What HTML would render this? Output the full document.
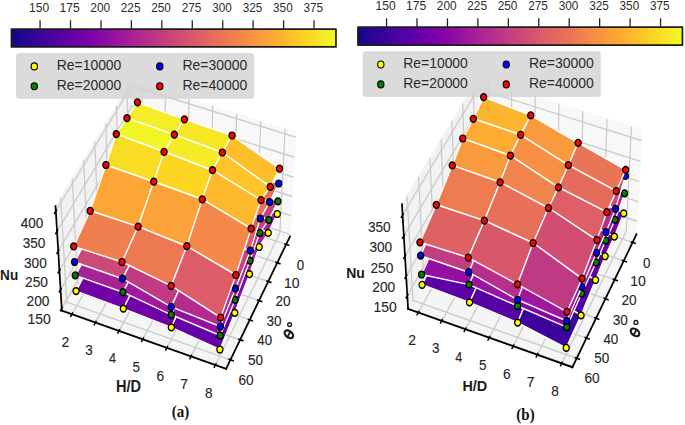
<!DOCTYPE html><html><head><meta charset="utf-8"><title>Nu surfaces</title><style>html,body{margin:0;padding:0;background:#fff}svg{display:block}</style></head><body>
<svg width="685" height="425" viewBox="0 0 685 425">
<defs><linearGradient id="cb0" gradientUnits="userSpaceOnUse" x1="11.45" y1="0" x2="335.95" y2="0"><stop offset="0.0000" stop-color="#0d0887"/><stop offset="0.0312" stop-color="#220690"/><stop offset="0.0625" stop-color="#310597"/><stop offset="0.0938" stop-color="#3f049c"/><stop offset="0.1250" stop-color="#4c02a1"/><stop offset="0.1562" stop-color="#5901a5"/><stop offset="0.1875" stop-color="#6600a7"/><stop offset="0.2188" stop-color="#7201a8"/><stop offset="0.2500" stop-color="#7e03a8"/><stop offset="0.2812" stop-color="#8a09a5"/><stop offset="0.3125" stop-color="#9511a1"/><stop offset="0.3438" stop-color="#a01a9c"/><stop offset="0.3750" stop-color="#aa2395"/><stop offset="0.4062" stop-color="#b32c8e"/><stop offset="0.4375" stop-color="#bc3587"/><stop offset="0.4688" stop-color="#c43e7f"/><stop offset="0.5000" stop-color="#cc4778"/><stop offset="0.5312" stop-color="#d35171"/><stop offset="0.5625" stop-color="#da5a6a"/><stop offset="0.5938" stop-color="#e06363"/><stop offset="0.6250" stop-color="#e66c5c"/><stop offset="0.6562" stop-color="#eb7655"/><stop offset="0.6875" stop-color="#f0804e"/><stop offset="0.7188" stop-color="#f58b47"/><stop offset="0.7500" stop-color="#f89540"/><stop offset="0.7812" stop-color="#fba139"/><stop offset="0.8125" stop-color="#fdac33"/><stop offset="0.8438" stop-color="#feb82c"/><stop offset="0.8750" stop-color="#fdc527"/><stop offset="0.9062" stop-color="#fcd225"/><stop offset="0.9375" stop-color="#f8df25"/><stop offset="0.9688" stop-color="#f4ed27"/><stop offset="1.0000" stop-color="#f0f921"/></linearGradient><linearGradient id="cb1" gradientUnits="userSpaceOnUse" x1="357.95" y1="0" x2="682.45" y2="0"><stop offset="0.0000" stop-color="#0d0887"/><stop offset="0.0312" stop-color="#220690"/><stop offset="0.0625" stop-color="#310597"/><stop offset="0.0938" stop-color="#3f049c"/><stop offset="0.1250" stop-color="#4c02a1"/><stop offset="0.1562" stop-color="#5901a5"/><stop offset="0.1875" stop-color="#6600a7"/><stop offset="0.2188" stop-color="#7201a8"/><stop offset="0.2500" stop-color="#7e03a8"/><stop offset="0.2812" stop-color="#8a09a5"/><stop offset="0.3125" stop-color="#9511a1"/><stop offset="0.3438" stop-color="#a01a9c"/><stop offset="0.3750" stop-color="#aa2395"/><stop offset="0.4062" stop-color="#b32c8e"/><stop offset="0.4375" stop-color="#bc3587"/><stop offset="0.4688" stop-color="#c43e7f"/><stop offset="0.5000" stop-color="#cc4778"/><stop offset="0.5312" stop-color="#d35171"/><stop offset="0.5625" stop-color="#da5a6a"/><stop offset="0.5938" stop-color="#e06363"/><stop offset="0.6250" stop-color="#e66c5c"/><stop offset="0.6562" stop-color="#eb7655"/><stop offset="0.6875" stop-color="#f0804e"/><stop offset="0.7188" stop-color="#f58b47"/><stop offset="0.7500" stop-color="#f89540"/><stop offset="0.7812" stop-color="#fba139"/><stop offset="0.8125" stop-color="#fdac33"/><stop offset="0.8438" stop-color="#feb82c"/><stop offset="0.8750" stop-color="#fdc527"/><stop offset="0.9062" stop-color="#fcd225"/><stop offset="0.9375" stop-color="#f8df25"/><stop offset="0.9688" stop-color="#f4ed27"/><stop offset="1.0000" stop-color="#f0f921"/></linearGradient></defs>
<rect x="0" y="0" width="685" height="425" fill="#fff"/>
 <defs> <style type="text/css">*{stroke-linejoin: round; stroke-linecap: butt}</style> </defs> 
<g transform="translate(174.198,0) scale(0.9040,1) translate(-174.198,0)"> <g id="pane3d_1"> <g id="patch_1"> <path d="M 129.54422 185.053186 L 302.279046 236.474806 L 308.783235 132.006064 L 127.051052 80.723833 " style="fill: #f2f2f2; opacity: 0.5; stroke: #f2f2f2; stroke-linejoin: miter"/> </g> </g> <g id="pane3d_2"> <g id="patch_2"> <path d="M 129.54422 185.053186 L 49.908612 310.560769 L 42.910323 206.130101 L 127.051052 80.723833 " style="fill: #e6e6e6; opacity: 0.5; stroke: #e6e6e6; stroke-linejoin: miter"/> </g> </g> <g id="pane3d_3"> <g id="patch_3"> <path d="M 129.54422 185.053186 L 49.908612 310.560769 L 231.648424 368.769676 L 302.279046 236.474806 " style="fill: #ececec; opacity: 0.5; stroke: #ececec; stroke-linejoin: miter"/> </g> </g> <g id="grid3d_1"> <g id="Line3DCollection_1"> <path d="M 298.041564 244.411832 L 124.75915 192.594567 L 122.010602 88.236296 " style="fill: none; stroke: #cbcbcb; stroke-width: 1.4"/> <path d="M 288.231021 262.787496 L 113.684439 210.048572 L 110.337336 105.634537 " style="fill: none; stroke: #cbcbcb; stroke-width: 1.4"/> <path d="M 278.242912 281.495749 L 102.41444 227.810354 L 98.447474 123.355601 " style="fill: none; stroke: #cbcbcb; stroke-width: 1.4"/> <path d="M 268.072372 300.545704 L 90.943942 245.888127 L 86.33493 141.408557 " style="fill: none; stroke: #cbcbcb; stroke-width: 1.4"/> <path d="M 257.714359 319.946809 L 79.267547 264.2904 L 73.99339 159.802818 " style="fill: none; stroke: #cbcbcb; stroke-width: 1.4"/> <path d="M 247.163638 339.708863 L 67.37966 283.025988 L 61.416297 178.548155 " style="fill: none; stroke: #cbcbcb; stroke-width: 1.4"/> <path d="M 236.414784 359.842033 L 55.274483 302.104031 L 48.596843 197.654715 " style="fill: none; stroke: #cbcbcb; stroke-width: 1.4"/> </g> </g> <g id="grid3d_2"> <g id="Line3DCollection_2"> <path d="M 138.328574 83.906189 L 140.276696 188.248148 L 61.183324 314.171913 " style="fill: none; stroke: #cbcbcb; stroke-width: 1.4"/> <path d="M 164.249293 91.220646 L 164.937987 195.589595 L 87.099231 322.472442 " style="fill: none; stroke: #cbcbcb; stroke-width: 1.4"/> <path d="M 190.371594 98.591987 L 189.78166 202.985335 L 113.219004 330.838267 " style="fill: none; stroke: #cbcbcb; stroke-width: 1.4"/> <path d="M 216.697838 106.020878 L 214.809745 210.435974 L 139.54506 339.270162 " style="fill: none; stroke: #cbcbcb; stroke-width: 1.4"/> <path d="M 243.230424 113.507995 L 240.024304 217.942123 L 166.07985 347.768911 " style="fill: none; stroke: #cbcbcb; stroke-width: 1.4"/> <path d="M 269.971786 121.054026 L 265.427428 225.504407 L 192.825869 356.335315 " style="fill: none; stroke: #cbcbcb; stroke-width: 1.4"/> <path d="M 296.924398 128.659669 L 291.021241 233.123458 L 219.785647 364.970182 " style="fill: none; stroke: #cbcbcb; stroke-width: 1.4"/> </g> </g> <g id="grid3d_3"> <g id="Line3DCollection_3"> <path d="M 49.765356 308.423045 L 129.493022 182.910772 L 302.412437 234.332305 " style="fill: none; stroke: #cbcbcb; stroke-width: 1.4"/> <path d="M 48.512885 289.733281 L 129.0457 164.192078 L 303.578213 215.607901 " style="fill: none; stroke: #cbcbcb; stroke-width: 1.4"/> <path d="M 47.235773 270.675823 L 128.59011 145.127401 L 304.766103 196.528283 " style="fill: none; stroke: #cbcbcb; stroke-width: 1.4"/> <path d="M 45.933286 251.239712 L 128.12602 125.707059 L 305.976744 177.083249 " style="fill: none; stroke: #cbcbcb; stroke-width: 1.4"/> <path d="M 44.604661 231.41355 L 127.653191 105.921005 L 307.210796 157.262197 " style="fill: none; stroke: #cbcbcb; stroke-width: 1.4"/> <path d="M 43.249102 211.185477 L 127.171374 85.758813 L 308.468945 137.054114 " style="fill: none; stroke: #cbcbcb; stroke-width: 1.4"/> </g> </g> <g id="axis3d_1"> <g id="line2d_1"> <path d="M 302.279046 236.474806 L 231.648424 368.769676 " style="fill: none; stroke: #000000; stroke-width: 1.9; stroke-linecap: square"/> </g> <g id="xtick_1"> <g id="line2d_2"> <path d="M 296.619631 243.986626 L 300.887201 245.262773 " style="fill: none; stroke: #000000; stroke-width: 1.6; stroke-linecap: square"/> </g> </g> <g id="xtick_2"> <g id="line2d_3"> <path d="M 286.798392 262.35463 L 291.098079 263.653772 " style="fill: none; stroke: #000000; stroke-width: 1.6; stroke-linecap: square"/> </g> </g> <g id="xtick_3"> <g id="line2d_4"> <path d="M 276.799431 281.055014 L 281.131704 282.377779 " style="fill: none; stroke: #000000; stroke-width: 1.6; stroke-linecap: square"/> </g> </g> <g id="xtick_4"> <g id="line2d_5"> <path d="M 266.617881 300.096883 L 270.983217 301.443921 " style="fill: none; stroke: #000000; stroke-width: 1.6; stroke-linecap: square"/> </g> </g> <g id="xtick_5"> <g id="line2d_6"> <path d="M 256.248693 319.489678 L 260.647582 320.861663 " style="fill: none; stroke: #000000; stroke-width: 1.6; stroke-linecap: square"/> </g> </g> <g id="xtick_6"> <g id="line2d_7"> <path d="M 245.686633 339.243188 L 250.119574 340.64082 " style="fill: none; stroke: #000000; stroke-width: 1.6; stroke-linecap: square"/> </g> </g> <g id="xtick_7"> <g id="line2d_8"> <path d="M 234.926269 359.367573 L 239.393771 360.791578 " style="fill: none; stroke: #000000; stroke-width: 1.6; stroke-linecap: square"/> </g> </g> </g> <g id="axis3d_2"> <g id="line2d_9"> <path d="M 49.908612 310.560769 L 231.648424 368.769676 " style="fill: none; stroke: #000000; stroke-width: 1.9; stroke-linecap: square"/> </g> <g id="xtick_8"> <g id="line2d_10"> <path d="M 61.855715 313.101406 L 59.8365 316.316178 " style="fill: none; stroke: #000000; stroke-width: 1.6; stroke-linecap: square"/> </g> </g> <g id="xtick_9"> <g id="line2d_11"> <path d="M 87.761109 321.393532 L 85.773456 324.633551 " style="fill: none; stroke: #000000; stroke-width: 1.6; stroke-linecap: square"/> </g> </g> <g id="xtick_10"> <g id="line2d_12"> <path d="M 113.870183 329.750856 L 111.914654 333.016418 " style="fill: none; stroke: #000000; stroke-width: 1.6; stroke-linecap: square"/> </g> </g> <g id="xtick_11"> <g id="line2d_13"> <path d="M 140.185349 338.174148 L 138.262514 341.465558 " style="fill: none; stroke: #000000; stroke-width: 1.6; stroke-linecap: square"/> </g> </g> <g id="xtick_12"> <g id="line2d_14"> <path d="M 166.709057 346.664192 L 164.819496 349.981758 " style="fill: none; stroke: #000000; stroke-width: 1.6; stroke-linecap: square"/> </g> </g> <g id="xtick_13"> <g id="line2d_15"> <path d="M 193.443795 355.221786 L 191.588102 358.56582 " style="fill: none; stroke: #000000; stroke-width: 1.6; stroke-linecap: square"/> </g> </g> <g id="xtick_14"> <g id="line2d_16"> <path d="M 220.392093 363.847739 L 218.570869 367.21856 " style="fill: none; stroke: #000000; stroke-width: 1.6; stroke-linecap: square"/> </g> </g> </g> <g id="axis3d_3"> <g id="line2d_17"> <path d="M 49.908612 310.560769 L 42.910323 206.130101 " style="fill: none; stroke: #000000; stroke-width: 1.9; stroke-linecap: square"/> </g> <g id="xtick_15"> <g id="line2d_18"> <path d="M 50.443116 307.356073 L 48.407779 310.560227 " style="fill: none; stroke: #000000; stroke-width: 1.6; stroke-linecap: square"/> </g> </g> <g id="xtick_16"> <g id="line2d_19"> <path d="M 49.197882 288.665451 L 47.140791 291.872213 " style="fill: none; stroke: #000000; stroke-width: 1.6; stroke-linecap: square"/> </g> </g> <g id="xtick_17"> <g id="line2d_20"> <path d="M 47.928163 269.607307 L 45.848851 272.816161 " style="fill: none; stroke: #000000; stroke-width: 1.6; stroke-linecap: square"/> </g> </g> <g id="xtick_18"> <g id="line2d_21"> <path d="M 46.633228 250.170693 L 44.531215 253.38109 " style="fill: none; stroke: #000000; stroke-width: 1.6; stroke-linecap: square"/> </g> </g> <g id="xtick_19"> <g id="line2d_22"> <path d="M 45.312321 230.344224 L 43.187109 233.555578 " style="fill: none; stroke: #000000; stroke-width: 1.6; stroke-linecap: square"/> </g> </g> <g id="xtick_20"> <g id="line2d_23"> <path d="M 43.96465 210.11605 L 41.815726 213.327741 " style="fill: none; stroke: #000000; stroke-width: 1.6; stroke-linecap: square"/> </g> </g> </g> </g><g transform="translate(520.500,0) scale(0.9017,1) translate(-520.500,0)"><g id="pane3d_4"> <g id="patch_4"> <path d="M 475.576812 182.635281 L 649.131159 234.387358 L 655.451472 129.797982 L 473.148319 78.15619 " style="fill: #f2f2f2; opacity: 0.5; stroke: #f2f2f2; stroke-linejoin: miter"/> </g> </g> <g id="pane3d_5"> <g id="patch_5"> <path d="M 475.576812 182.635281 L 395.825243 308.859017 L 389.042494 204.335285 L 473.148319 78.15619 " style="fill: #e6e6e6; opacity: 0.5; stroke: #e6e6e6; stroke-linejoin: miter"/> </g> </g> <g id="pane3d_6"> <g id="patch_6"> <path d="M 475.576812 182.635281 L 395.825243 308.859017 L 578.103394 367.187231 L 649.131159 234.387358 " style="fill: #ececec; opacity: 0.5; stroke: #ececec; stroke-linejoin: miter"/> </g> </g> <g id="grid3d_4"> <g id="Line3DCollection_4"> <path d="M 644.860885 242.371444 L 470.775207 190.234838 L 468.098883 85.731566 " style="fill: none; stroke: #cbcbcb; stroke-width: 1.4"/> <path d="M 634.978823 260.847833 L 459.666924 207.816047 L 456.410237 103.267364 " style="fill: none; stroke: #cbcbcb; stroke-width: 1.4"/> <path d="M 624.924208 279.646842 L 448.369495 225.696618 L 444.512501 121.116848 " style="fill: none; stroke: #cbcbcb; stroke-width: 1.4"/> <path d="M 614.692482 298.776993 L 436.878049 243.884264 L 432.400014 139.28851 " style="fill: none; stroke: #cbcbcb; stroke-width: 1.4"/> <path d="M 604.278924 318.247115 L 425.187544 262.386963 L 420.066909 157.791153 " style="fill: none; stroke: #cbcbcb; stroke-width: 1.4"/> <path d="M 593.678642 338.066351 L 413.292761 281.212973 L 407.507102 176.633904 " style="fill: none; stroke: #cbcbcb; stroke-width: 1.4"/> <path d="M 582.88657 358.244177 L 401.188301 300.370843 L 394.714286 195.826225 " style="fill: none; stroke: #cbcbcb; stroke-width: 1.4"/> </g> </g> <g id="grid3d_5"> <g id="Line3DCollection_5"> <path d="M 484.471566 81.363774 L 486.369143 185.85344 L 407.143928 312.480947 " style="fill: none; stroke: #cbcbcb; stroke-width: 1.4"/> <path d="M 510.492216 88.734755 L 511.163479 193.24685 L 433.155603 320.804569 " style="fill: none; stroke: #cbcbcb; stroke-width: 1.4"/> <path d="M 536.707943 96.160995 L 536.134858 200.693052 L 459.364416 329.191275 " style="fill: none; stroke: #cbcbcb; stroke-width: 1.4"/> <path d="M 563.120947 103.64312 L 561.285183 208.192614 L 485.772617 337.641785 " style="fill: none; stroke: #cbcbcb; stroke-width: 1.4"/> <path d="M 589.733466 111.181762 L 586.616385 215.746111 L 512.382489 346.156828 " style="fill: none; stroke: #cbcbcb; stroke-width: 1.4"/> <path d="M 616.547768 118.777563 L 612.13042 223.354128 L 539.196351 354.737147 " style="fill: none; stroke: #cbcbcb; stroke-width: 1.4"/> <path d="M 643.566156 126.431177 L 637.829277 231.017256 L 566.216558 363.383495 " style="fill: none; stroke: #cbcbcb; stroke-width: 1.4"/> </g> </g> <g id="grid3d_6"> <g id="Line3DCollection_6"> <path d="M 394.972027 295.710748 L 475.270521 169.457955 L 649.927442 221.21035 " style="fill: none; stroke: #cbcbcb; stroke-width: 1.4"/> <path d="M 393.703021 276.155084 L 474.815398 149.877569 L 651.11111 201.622858 " style="fill: none; stroke: #cbcbcb; stroke-width: 1.4"/> <path d="M 392.408936 256.212925 L 474.351808 129.932943 L 652.31736 181.661674 " style="fill: none; stroke: #cbcbcb; stroke-width: 1.4"/> <path d="M 391.089019 235.872697 L 473.879514 109.613818 L 653.546845 161.316 " style="fill: none; stroke: #cbcbcb; stroke-width: 1.4"/> <path d="M 389.742489 215.122361 L 473.398268 88.909545 L 654.800242 140.574618 " style="fill: none; stroke: #cbcbcb; stroke-width: 1.4"/> </g> </g> <g id="axis3d_4"> <g id="line2d_24"> <path d="M 649.131159 234.387358 L 578.103394 367.187231 " style="fill: none; stroke: #000000; stroke-width: 1.9; stroke-linecap: square"/> </g> <g id="xtick_21"> <g id="line2d_25"> <path d="M 643.433621 241.943995 L 647.717129 243.226855 " style="fill: none; stroke: #000000; stroke-width: 1.6; stroke-linecap: square"/> </g> </g> <g id="xtick_22"> <g id="line2d_26"> <path d="M 633.541204 260.412954 L 637.855804 261.718119 " style="fill: none; stroke: #000000; stroke-width: 1.6; stroke-linecap: square"/> </g> </g> <g id="xtick_23"> <g id="line2d_27"> <path d="M 623.476089 279.204337 L 627.822218 280.532393 " style="fill: none; stroke: #000000; stroke-width: 1.6; stroke-linecap: square"/> </g> </g> <g id="xtick_24"> <g id="line2d_28"> <path d="M 613.233714 298.32666 L 617.611818 299.678215 " style="fill: none; stroke: #000000; stroke-width: 1.6; stroke-linecap: square"/> </g> </g> <g id="xtick_25"> <g id="line2d_29"> <path d="M 602.809356 317.788744 L 607.21989 319.164428 " style="fill: none; stroke: #000000; stroke-width: 1.6; stroke-linecap: square"/> </g> </g> <g id="xtick_26"> <g id="line2d_30"> <path d="M 592.198119 337.599725 L 596.641548 339.000189 " style="fill: none; stroke: #000000; stroke-width: 1.6; stroke-linecap: square"/> </g> </g> <g id="xtick_27"> <g id="line2d_31"> <path d="M 581.394934 357.769071 L 585.871731 359.194991 " style="fill: none; stroke: #000000; stroke-width: 1.6; stroke-linecap: square"/> </g> </g> </g> <g id="axis3d_5"> <g id="line2d_32"> <path d="M 395.825243 308.859017 L 578.103394 367.187231 " style="fill: none; stroke: #000000; stroke-width: 1.9; stroke-linecap: square"/> </g> <g id="xtick_28"> <g id="line2d_33"> <path d="M 407.81602 311.406727 L 405.797777 314.632531 " style="fill: none; stroke: #000000; stroke-width: 1.6; stroke-linecap: square"/> </g> </g> <g id="xtick_29"> <g id="line2d_34"> <path d="M 433.81751 319.722226 L 431.829845 322.972437 " style="fill: none; stroke: #000000; stroke-width: 1.6; stroke-linecap: square"/> </g> </g> <g id="xtick_30"> <g id="line2d_35"> <path d="M 460.015965 328.100715 L 458.059398 331.375612 " style="fill: none; stroke: #000000; stroke-width: 1.6; stroke-linecap: square"/> </g> </g> <g id="xtick_31"> <g id="line2d_36"> <path d="M 486.413629 336.542914 L 484.488694 339.842779 " style="fill: none; stroke: #000000; stroke-width: 1.6; stroke-linecap: square"/> </g> </g> <g id="xtick_32"> <g id="line2d_37"> <path d="M 513.012785 345.049552 L 511.120022 348.374671 " style="fill: none; stroke: #000000; stroke-width: 1.6; stroke-linecap: square"/> </g> </g> <g id="xtick_33"> <g id="line2d_38"> <path d="M 539.815748 353.621368 L 537.955708 356.972033 " style="fill: none; stroke: #000000; stroke-width: 1.6; stroke-linecap: square"/> </g> </g> <g id="xtick_34"> <g id="line2d_39"> <path d="M 566.824869 362.259116 L 564.998113 365.635622 " style="fill: none; stroke: #000000; stroke-width: 1.6; stroke-linecap: square"/> </g> </g> </g> <g id="axis3d_6"> <g id="line2d_40"> <path d="M 395.825243 308.859017 L 389.042494 204.335285 " style="fill: none; stroke: #000000; stroke-width: 1.9; stroke-linecap: square"/> </g> <g id="xtick_35"> <g id="line2d_41"> <path d="M 395.653416 294.639404 L 393.607243 297.856588 " style="fill: none; stroke: #000000; stroke-width: 1.6; stroke-linecap: square"/> </g> </g> <g id="xtick_36"> <g id="line2d_42"> <path d="M 394.391702 275.082931 L 392.323613 278.302577 " style="fill: none; stroke: #000000; stroke-width: 1.6; stroke-linecap: square"/> </g> </g> <g id="xtick_37"> <g id="line2d_43"> <path d="M 393.105065 255.140138 L 391.014589 258.361716 " style="fill: none; stroke: #000000; stroke-width: 1.6; stroke-linecap: square"/> </g> </g> <g id="xtick_38"> <g id="line2d_44"> <path d="M 391.792758 234.799466 L 389.679408 238.022411 " style="fill: none; stroke: #000000; stroke-width: 1.6; stroke-linecap: square"/> </g> </g> <g id="xtick_39"> <g id="line2d_45"> <path d="M 390.454005 214.048885 L 388.317279 217.272598 " style="fill: none; stroke: #000000; stroke-width: 1.6; stroke-linecap: square"/> </g> </g> </g> </g>
<rect x="11.45" y="29.05" width="324.50" height="17.90" fill="url(#cb0)" stroke="#1c1c1c" stroke-width="1.7"/>
<line x1="40.06" y1="20.25" x2="40.06" y2="29.05" stroke="#262626" stroke-width="1.3"/>
<text x="0" y="0" transform="translate(29.10,12.27) scale(0.9362,1)" font-family='"Liberation Sans", sans-serif' font-weight="normal" font-size="12.85" fill="#2b2b2b">150</text>
<line x1="70.51" y1="20.25" x2="70.51" y2="29.05" stroke="#262626" stroke-width="1.3"/>
<text x="0" y="0" transform="translate(59.54,12.27) scale(0.9248,1)" font-family='"Liberation Sans", sans-serif' font-weight="normal" font-size="13.04" fill="#2b2b2b">175</text>
<line x1="100.95" y1="20.25" x2="100.95" y2="29.05" stroke="#262626" stroke-width="1.3"/>
<text x="0" y="0" transform="translate(90.30,12.27) scale(0.9208,1)" font-family='"Liberation Sans", sans-serif' font-weight="normal" font-size="12.85" fill="#2b2b2b">200</text>
<line x1="131.39" y1="20.25" x2="131.39" y2="29.05" stroke="#262626" stroke-width="1.3"/>
<text x="0" y="0" transform="translate(120.74,12.27) scale(0.9226,1)" font-family='"Liberation Sans", sans-serif' font-weight="normal" font-size="12.85" fill="#2b2b2b">225</text>
<line x1="161.83" y1="20.25" x2="161.83" y2="29.05" stroke="#262626" stroke-width="1.3"/>
<text x="0" y="0" transform="translate(151.19,12.27) scale(0.9208,1)" font-family='"Liberation Sans", sans-serif' font-weight="normal" font-size="12.85" fill="#2b2b2b">250</text>
<line x1="192.27" y1="20.25" x2="192.27" y2="29.05" stroke="#262626" stroke-width="1.3"/>
<text x="0" y="0" transform="translate(181.63,12.27) scale(0.9226,1)" font-family='"Liberation Sans", sans-serif' font-weight="normal" font-size="12.85" fill="#2b2b2b">275</text>
<line x1="222.71" y1="20.25" x2="222.71" y2="29.05" stroke="#262626" stroke-width="1.3"/>
<text x="0" y="0" transform="translate(212.21,12.27) scale(0.9139,1)" font-family='"Liberation Sans", sans-serif' font-weight="normal" font-size="12.85" fill="#2b2b2b">300</text>
<line x1="253.15" y1="20.25" x2="253.15" y2="29.05" stroke="#262626" stroke-width="1.3"/>
<text x="0" y="0" transform="translate(242.65,12.27) scale(0.9156,1)" font-family='"Liberation Sans", sans-serif' font-weight="normal" font-size="12.85" fill="#2b2b2b">325</text>
<line x1="283.59" y1="20.25" x2="283.59" y2="29.05" stroke="#262626" stroke-width="1.3"/>
<text x="0" y="0" transform="translate(273.10,12.27) scale(0.9139,1)" font-family='"Liberation Sans", sans-serif' font-weight="normal" font-size="12.85" fill="#2b2b2b">350</text>
<line x1="314.03" y1="20.25" x2="314.03" y2="29.05" stroke="#262626" stroke-width="1.3"/>
<text x="0" y="0" transform="translate(303.54,12.27) scale(0.9156,1)" font-family='"Liberation Sans", sans-serif' font-weight="normal" font-size="12.85" fill="#2b2b2b">375</text>
<rect x="16.6" y="53.6" width="237.2" height="44.7" rx="2.2" fill="#d3d3d3" fill-opacity="0.82" stroke="#cfcfcf" stroke-opacity="0.8" stroke-width="0.8"/>
<ellipse cx="34.30" cy="66.40" rx="3.15" ry="3.5" fill="#ffff00" stroke="#000" stroke-width="1.1"/>
<text x="0" y="0" transform="translate(56.76,70.06) scale(0.9961,1)" font-family='"Liberation Sans", sans-serif' font-weight="normal" font-size="13.98" fill="#2b2b2b">Re=10000</text>
<ellipse cx="34.30" cy="86.30" rx="3.15" ry="3.5" fill="#008000" stroke="#000" stroke-width="1.1"/>
<text x="0" y="0" transform="translate(56.76,89.96) scale(0.9961,1)" font-family='"Liberation Sans", sans-serif' font-weight="normal" font-size="13.98" fill="#2b2b2b">Re=20000</text>
<ellipse cx="159.80" cy="66.40" rx="3.15" ry="3.5" fill="#0000ff" stroke="#000" stroke-width="1.1"/>
<text x="0" y="0" transform="translate(182.45,70.06) scale(0.9993,1)" font-family='"Liberation Sans", sans-serif' font-weight="normal" font-size="13.98" fill="#2b2b2b">Re=30000</text>
<ellipse cx="159.80" cy="86.30" rx="3.15" ry="3.5" fill="#ff0000" stroke="#000" stroke-width="1.1"/>
<text x="0" y="0" transform="translate(182.45,89.96) scale(0.9993,1)" font-family='"Liberation Sans", sans-serif' font-weight="normal" font-size="13.98" fill="#2b2b2b">Re=40000</text>
<rect x="357.95" y="27.150000000000002" width="324.50" height="17.90" fill="url(#cb1)" stroke="#1c1c1c" stroke-width="1.7"/>
<line x1="386.56" y1="18.35" x2="386.56" y2="27.15" stroke="#262626" stroke-width="1.3"/>
<text x="0" y="0" transform="translate(375.60,10.37) scale(0.9362,1)" font-family='"Liberation Sans", sans-serif' font-weight="normal" font-size="12.85" fill="#2b2b2b">150</text>
<line x1="417.01" y1="18.35" x2="417.01" y2="27.15" stroke="#262626" stroke-width="1.3"/>
<text x="0" y="0" transform="translate(406.04,10.37) scale(0.9248,1)" font-family='"Liberation Sans", sans-serif' font-weight="normal" font-size="13.04" fill="#2b2b2b">175</text>
<line x1="447.45" y1="18.35" x2="447.45" y2="27.15" stroke="#262626" stroke-width="1.3"/>
<text x="0" y="0" transform="translate(436.80,10.37) scale(0.9208,1)" font-family='"Liberation Sans", sans-serif' font-weight="normal" font-size="12.85" fill="#2b2b2b">200</text>
<line x1="477.89" y1="18.35" x2="477.89" y2="27.15" stroke="#262626" stroke-width="1.3"/>
<text x="0" y="0" transform="translate(467.24,10.37) scale(0.9226,1)" font-family='"Liberation Sans", sans-serif' font-weight="normal" font-size="12.85" fill="#2b2b2b">225</text>
<line x1="508.33" y1="18.35" x2="508.33" y2="27.15" stroke="#262626" stroke-width="1.3"/>
<text x="0" y="0" transform="translate(497.69,10.37) scale(0.9208,1)" font-family='"Liberation Sans", sans-serif' font-weight="normal" font-size="12.85" fill="#2b2b2b">250</text>
<line x1="538.77" y1="18.35" x2="538.77" y2="27.15" stroke="#262626" stroke-width="1.3"/>
<text x="0" y="0" transform="translate(528.13,10.37) scale(0.9226,1)" font-family='"Liberation Sans", sans-serif' font-weight="normal" font-size="12.85" fill="#2b2b2b">275</text>
<line x1="569.21" y1="18.35" x2="569.21" y2="27.15" stroke="#262626" stroke-width="1.3"/>
<text x="0" y="0" transform="translate(558.71,10.37) scale(0.9139,1)" font-family='"Liberation Sans", sans-serif' font-weight="normal" font-size="12.85" fill="#2b2b2b">300</text>
<line x1="599.65" y1="18.35" x2="599.65" y2="27.15" stroke="#262626" stroke-width="1.3"/>
<text x="0" y="0" transform="translate(589.15,10.37) scale(0.9156,1)" font-family='"Liberation Sans", sans-serif' font-weight="normal" font-size="12.85" fill="#2b2b2b">325</text>
<line x1="630.09" y1="18.35" x2="630.09" y2="27.15" stroke="#262626" stroke-width="1.3"/>
<text x="0" y="0" transform="translate(619.60,10.37) scale(0.9139,1)" font-family='"Liberation Sans", sans-serif' font-weight="normal" font-size="12.85" fill="#2b2b2b">350</text>
<line x1="660.53" y1="18.35" x2="660.53" y2="27.15" stroke="#262626" stroke-width="1.3"/>
<text x="0" y="0" transform="translate(650.04,10.37) scale(0.9156,1)" font-family='"Liberation Sans", sans-serif' font-weight="normal" font-size="12.85" fill="#2b2b2b">375</text>
<rect x="363.1" y="51.7" width="237.2" height="44.7" rx="2.2" fill="#d3d3d3" fill-opacity="0.82" stroke="#cfcfcf" stroke-opacity="0.8" stroke-width="0.8"/>
<ellipse cx="380.80" cy="64.50" rx="3.15" ry="3.5" fill="#ffff00" stroke="#000" stroke-width="1.1"/>
<text x="0" y="0" transform="translate(403.26,68.16) scale(0.9961,1)" font-family='"Liberation Sans", sans-serif' font-weight="normal" font-size="13.98" fill="#2b2b2b">Re=10000</text>
<ellipse cx="380.80" cy="84.40" rx="3.15" ry="3.5" fill="#008000" stroke="#000" stroke-width="1.1"/>
<text x="0" y="0" transform="translate(403.26,88.06) scale(0.9961,1)" font-family='"Liberation Sans", sans-serif' font-weight="normal" font-size="13.98" fill="#2b2b2b">Re=20000</text>
<ellipse cx="506.30" cy="64.50" rx="3.15" ry="3.5" fill="#0000ff" stroke="#000" stroke-width="1.1"/>
<text x="0" y="0" transform="translate(528.95,68.16) scale(0.9993,1)" font-family='"Liberation Sans", sans-serif' font-weight="normal" font-size="13.98" fill="#2b2b2b">Re=30000</text>
<ellipse cx="506.30" cy="84.40" rx="3.15" ry="3.5" fill="#ff0000" stroke="#000" stroke-width="1.1"/>
<text x="0" y="0" transform="translate(528.95,88.06) scale(0.9993,1)" font-family='"Liberation Sans", sans-serif' font-weight="normal" font-size="13.98" fill="#2b2b2b">Re=40000</text>
<g transform="translate(174.198,0) scale(0.9040,1) translate(-174.198,0)"><g id="axes_1"> <g id="Poly3DCollection_1"> <path d="M 134.815746 162.183339 L 185.28701 180.207807 L 174.481593 197.307194 L 123.620926 179.450666 z " clip-path="url(#p30586938d8)" style="fill: #ad2793; stroke: #ffffff; stroke-width: 1.45"/> <path d="M 185.28701 180.207807 L 236.51652 193.185987 L 226.078339 211.340903 L 174.481593 197.307194 z " clip-path="url(#p30586938d8)" style="fill: #ab2494; stroke: #ffffff; stroke-width: 1.45"/> <path d="M 123.620926 179.450666 L 174.481593 197.307194 L 163.465911 213.689781 L 112.155497 194.978468 z " clip-path="url(#p30586938d8)" style="fill: #b12a90; stroke: #ffffff; stroke-width: 1.45"/> <path d="M 236.51652 193.185987 L 288.222153 214.008744 L 278.175553 232.904298 L 226.078339 211.340903 z " clip-path="url(#p30586938d8)" style="fill: #a51f99; stroke: #ffffff; stroke-width: 1.45"/> <path d="M 112.155497 194.978468 L 163.465911 213.689781 L 152.366273 240.81629 L 100.918006 222.792945 z " clip-path="url(#p30586938d8)" style="fill: #a62098; stroke: #ffffff; stroke-width: 1.45"/> <path d="M 174.481593 197.307194 L 226.078339 211.340903 L 215.483355 228.087436 L 163.465911 213.689781 z " clip-path="url(#p30586938d8)" style="fill: #ae2892; stroke: #ffffff; stroke-width: 1.45"/> <path d="M 100.918006 222.792945 L 152.366273 240.81629 L 135.415006 277.278733 L 83.633615 259.787519 z " clip-path="url(#p30586938d8)" style="fill: #8707a6; stroke: #ffffff; stroke-width: 1.45"/> <path d="M 226.078339 211.340903 L 278.175553 232.904298 L 268.18371 247.002552 L 215.483355 228.087436 z " clip-path="url(#p30586938d8)" style="fill: #aa2395; stroke: #ffffff; stroke-width: 1.45"/> <path d="M 163.465911 213.689781 L 215.483355 228.087436 L 204.543298 255.138462 L 152.366273 240.81629 z " clip-path="url(#p30586938d8)" style="fill: #a31e9a; stroke: #ffffff; stroke-width: 1.45"/> <path d="M 152.366273 240.81629 L 204.543298 255.138462 L 187.943236 293.240442 L 135.415006 277.278733 z " clip-path="url(#p30586938d8)" style="fill: #8606a6; stroke: #ffffff; stroke-width: 1.45"/> <path d="M 215.483355 228.087436 L 268.18371 247.002552 L 257.442307 274.201899 L 204.543298 255.138462 z " clip-path="url(#p30586938d8)" style="fill: #a11b9b; stroke: #ffffff; stroke-width: 1.45"/> <path d="M 83.633615 259.787519 L 135.415006 277.278733 L 117.951629 308.59287 L 65.664265 291.10094 z " clip-path="url(#p30586938d8)" style="fill: #7201a8; stroke: #ffffff; stroke-width: 1.45"/> <path d="M 204.543298 255.138462 L 257.442307 274.201899 L 241.211384 312.902342 L 187.943236 293.240442 z " clip-path="url(#p30586938d8)" style="fill: #8305a7; stroke: #ffffff; stroke-width: 1.45"/> <path d="M 135.415006 277.278733 L 187.943236 293.240442 L 171.022352 327.400951 L 117.951629 308.59287 z " clip-path="url(#p30586938d8)" style="fill: #6f00a8; stroke: #ffffff; stroke-width: 1.45"/> <path d="M 187.943236 293.240442 L 241.211384 312.902342 L 224.75479 349.502278 L 171.022352 327.400951 z " clip-path="url(#p30586938d8)" style="fill: #6400a7; stroke: #ffffff; stroke-width: 1.45"/> </g> <g id="Path3DCollection_1"> <defs> <path id="m88a1e799e0" d="M 0 3.391165 C 0.899347 3.391165 1.761981 3.03385 2.397916 2.397916 C 3.03385 1.761981 3.391165 0.899347 3.391165 0 C 3.391165 -0.899347 3.03385 -1.761981 2.397916 -2.397916 C 1.761981 -3.03385 0.899347 -3.391165 0 -3.391165 C -0.899347 -3.391165 -1.761981 -3.03385 -2.397916 -2.397916 C -3.03385 -1.761981 -3.391165 -0.899347 -3.391165 0 C -3.391165 0.899347 -3.03385 1.761981 -2.397916 2.397916 C -1.761981 3.03385 -0.899347 3.391165 0 3.391165 z " style="stroke: #000000; stroke-width: 1.4"/> </defs> <g clip-path="url(#p30586938d8)"> <use href="#m88a1e799e0" x="134.815746" y="162.183339" style="fill: #ffff00; stroke: #000000; stroke-width: 1.4"/> <use href="#m88a1e799e0" x="185.28701" y="180.207807" style="fill: #ffff00; stroke: #000000; stroke-width: 1.4"/> <use href="#m88a1e799e0" x="123.620926" y="179.450666" style="fill: #ffff00; stroke: #000000; stroke-width: 1.4"/> <use href="#m88a1e799e0" x="236.51652" y="193.185987" style="fill: #ffff00; stroke: #000000; stroke-width: 1.4"/> <use href="#m88a1e799e0" x="174.481593" y="197.307194" style="fill: #ffff00; stroke: #000000; stroke-width: 1.4"/> <use href="#m88a1e799e0" x="112.155497" y="194.978468" style="fill: #ffff00; stroke: #000000; stroke-width: 1.4"/> <use href="#m88a1e799e0" x="288.222153" y="214.008744" style="fill: #ffff00; stroke: #000000; stroke-width: 1.4"/> <use href="#m88a1e799e0" x="100.918006" y="222.792945" style="fill: #ffff00; stroke: #000000; stroke-width: 1.4"/> <use href="#m88a1e799e0" x="226.078339" y="211.340903" style="fill: #ffff00; stroke: #000000; stroke-width: 1.4"/> <use href="#m88a1e799e0" x="163.465911" y="213.689781" style="fill: #ffff00; stroke: #000000; stroke-width: 1.4"/> <use href="#m88a1e799e0" x="278.175553" y="232.904298" style="fill: #ffff00; stroke: #000000; stroke-width: 1.4"/> <use href="#m88a1e799e0" x="152.366273" y="240.81629" style="fill: #ffff00; stroke: #000000; stroke-width: 1.4"/> <use href="#m88a1e799e0" x="83.633615" y="259.787519" style="fill: #ffff00; stroke: #000000; stroke-width: 1.4"/> <use href="#m88a1e799e0" x="215.483355" y="228.087436" style="fill: #ffff00; stroke: #000000; stroke-width: 1.4"/> <use href="#m88a1e799e0" x="204.543298" y="255.138462" style="fill: #ffff00; stroke: #000000; stroke-width: 1.4"/> <use href="#m88a1e799e0" x="135.415006" y="277.278733" style="fill: #ffff00; stroke: #000000; stroke-width: 1.4"/> <use href="#m88a1e799e0" x="268.18371" y="247.002552" style="fill: #ffff00; stroke: #000000; stroke-width: 1.4"/> <use href="#m88a1e799e0" x="65.664265" y="291.10094" style="fill: #ffff00; stroke: #000000; stroke-width: 1.4"/> <use href="#m88a1e799e0" x="257.442307" y="274.201899" style="fill: #ffff00; stroke: #000000; stroke-width: 1.4"/> <use href="#m88a1e799e0" x="187.943236" y="293.240442" style="fill: #ffff00; stroke: #000000; stroke-width: 1.4"/> <use href="#m88a1e799e0" x="117.951629" y="308.59287" style="fill: #ffff00; stroke: #000000; stroke-width: 1.4"/> <use href="#m88a1e799e0" x="241.211384" y="312.902342" style="fill: #ffff00; stroke: #000000; stroke-width: 1.4"/> <use href="#m88a1e799e0" x="171.022352" y="327.400951" style="fill: #ffff00; stroke: #000000; stroke-width: 1.4"/> <use href="#m88a1e799e0" x="224.75479" y="349.502278" style="fill: #ffff00; stroke: #000000; stroke-width: 1.4"/> </g> </g> <g id="Poly3DCollection_2"> <path d="M 134.536382 148.930471 L 185.334032 166.346761 L 174.454159 182.887357 L 123.253648 165.707487 z " clip-path="url(#p30586938d8)" style="fill: #d04d73; stroke: #ffffff; stroke-width: 1.45"/> <path d="M 185.334032 166.346761 L 236.806512 183.046982 L 226.328201 200.789684 L 174.454159 182.887357 z " clip-path="url(#p30586938d8)" style="fill: #cc4778; stroke: #ffffff; stroke-width: 1.45"/> <path d="M 123.253648 165.707487 L 174.454159 182.887357 L 163.354671 198.635233 L 111.684429 180.515538 z " clip-path="url(#p30586938d8)" style="fill: #d5536f; stroke: #ffffff; stroke-width: 1.45"/> <path d="M 236.806512 183.046982 L 288.909292 201.419658 L 278.821382 220.003566 L 226.328201 200.789684 z " clip-path="url(#p30586938d8)" style="fill: #c5407e; stroke: #ffffff; stroke-width: 1.45"/> <path d="M 174.454159 182.887357 L 226.328201 200.789684 L 215.689147 217.010979 L 163.354671 198.635233 z " clip-path="url(#p30586938d8)" style="fill: #cf4c74; stroke: #ffffff; stroke-width: 1.45"/> <path d="M 111.684429 180.515538 L 163.354671 198.635233 L 152.176214 226.283724 L 100.380246 208.871945 z " clip-path="url(#p30586938d8)" style="fill: #cc4977; stroke: #ffffff; stroke-width: 1.45"/> <path d="M 226.328201 200.789684 L 278.821382 220.003566 L 268.818776 233.005591 L 215.689147 217.010979 z " clip-path="url(#p30586938d8)" style="fill: #ca457a; stroke: #ffffff; stroke-width: 1.45"/> <path d="M 163.354671 198.635233 L 215.689147 217.010979 L 204.68973 244.11714 L 152.176214 226.283724 z " clip-path="url(#p30586938d8)" style="fill: #c7427c; stroke: #ffffff; stroke-width: 1.45"/> <path d="M 100.380246 208.871945 L 152.176214 226.283724 L 135.102902 263.102796 L 82.982817 246.26908 z " clip-path="url(#p30586938d8)" style="fill: #b52f8c; stroke: #ffffff; stroke-width: 1.45"/> <path d="M 152.176214 226.283724 L 204.68973 244.11714 L 187.997143 282.381165 L 135.102902 263.102796 z " clip-path="url(#p30586938d8)" style="fill: #b02991; stroke: #ffffff; stroke-width: 1.45"/> <path d="M 215.689147 217.010979 L 268.818776 233.005591 L 257.993601 260.590854 L 204.68973 244.11714 z " clip-path="url(#p30586938d8)" style="fill: #c43e7f; stroke: #ffffff; stroke-width: 1.45"/> <path d="M 82.982817 246.26908 L 135.102902 263.102796 L 117.435532 292.19761 L 64.75088 275.407555 z " clip-path="url(#p30586938d8)" style="fill: #a72197; stroke: #ffffff; stroke-width: 1.45"/> <path d="M 204.68973 244.11714 L 257.993601 260.590854 L 241.638552 299.895994 L 187.997143 282.381165 z " clip-path="url(#p30586938d8)" style="fill: #ab2494; stroke: #ffffff; stroke-width: 1.45"/> <path d="M 135.102902 263.102796 L 187.997143 282.381165 L 170.973796 314.801104 L 117.435532 292.19761 z " clip-path="url(#p30586938d8)" style="fill: #a01a9c; stroke: #ffffff; stroke-width: 1.45"/> <path d="M 187.997143 282.381165 L 241.638552 299.895994 L 225.101064 335.493631 L 170.973796 314.801104 z " clip-path="url(#p30586938d8)" style="fill: #9511a1; stroke: #ffffff; stroke-width: 1.45"/> </g> <g id="Path3DCollection_2"> <defs> <path id="m394f9abd54" d="M 0 3.391165 C 0.899347 3.391165 1.761981 3.03385 2.397916 2.397916 C 3.03385 1.761981 3.391165 0.899347 3.391165 0 C 3.391165 -0.899347 3.03385 -1.761981 2.397916 -2.397916 C 1.761981 -3.03385 0.899347 -3.391165 0 -3.391165 C -0.899347 -3.391165 -1.761981 -3.03385 -2.397916 -2.397916 C -3.03385 -1.761981 -3.391165 -0.899347 -3.391165 0 C -3.391165 0.899347 -3.03385 1.761981 -2.397916 2.397916 C -1.761981 3.03385 -0.899347 3.391165 0 3.391165 z " style="stroke: #000000; stroke-width: 1.4"/> </defs> <g clip-path="url(#p30586938d8)"> <use href="#m394f9abd54" x="134.536382" y="148.930471" style="fill: #008000; stroke: #000000; stroke-width: 1.4"/> <use href="#m394f9abd54" x="185.334032" y="166.346761" style="fill: #008000; stroke: #000000; stroke-width: 1.4"/> <use href="#m394f9abd54" x="123.253648" y="165.707487" style="fill: #008000; stroke: #000000; stroke-width: 1.4"/> <use href="#m394f9abd54" x="236.806512" y="183.046982" style="fill: #008000; stroke: #000000; stroke-width: 1.4"/> <use href="#m394f9abd54" x="174.454159" y="182.887357" style="fill: #008000; stroke: #000000; stroke-width: 1.4"/> <use href="#m394f9abd54" x="288.909292" y="201.419658" style="fill: #008000; stroke: #000000; stroke-width: 1.4"/> <use href="#m394f9abd54" x="111.684429" y="180.515538" style="fill: #008000; stroke: #000000; stroke-width: 1.4"/> <use href="#m394f9abd54" x="226.328201" y="200.789684" style="fill: #008000; stroke: #000000; stroke-width: 1.4"/> <use href="#m394f9abd54" x="100.380246" y="208.871945" style="fill: #008000; stroke: #000000; stroke-width: 1.4"/> <use href="#m394f9abd54" x="163.354671" y="198.635233" style="fill: #008000; stroke: #000000; stroke-width: 1.4"/> <use href="#m394f9abd54" x="278.821382" y="220.003566" style="fill: #008000; stroke: #000000; stroke-width: 1.4"/> <use href="#m394f9abd54" x="152.176214" y="226.283724" style="fill: #008000; stroke: #000000; stroke-width: 1.4"/> <use href="#m394f9abd54" x="215.689147" y="217.010979" style="fill: #008000; stroke: #000000; stroke-width: 1.4"/> <use href="#m394f9abd54" x="82.982817" y="246.26908" style="fill: #008000; stroke: #000000; stroke-width: 1.4"/> <use href="#m394f9abd54" x="204.68973" y="244.11714" style="fill: #008000; stroke: #000000; stroke-width: 1.4"/> <use href="#m394f9abd54" x="135.102902" y="263.102796" style="fill: #008000; stroke: #000000; stroke-width: 1.4"/> <use href="#m394f9abd54" x="268.818776" y="233.005591" style="fill: #008000; stroke: #000000; stroke-width: 1.4"/> <use href="#m394f9abd54" x="257.993601" y="260.590854" style="fill: #008000; stroke: #000000; stroke-width: 1.4"/> <use href="#m394f9abd54" x="64.75088" y="275.407555" style="fill: #008000; stroke: #000000; stroke-width: 1.4"/> <use href="#m394f9abd54" x="187.997143" y="282.381165" style="fill: #008000; stroke: #000000; stroke-width: 1.4"/> <use href="#m394f9abd54" x="241.638552" y="299.895994" style="fill: #008000; stroke: #000000; stroke-width: 1.4"/> <use href="#m394f9abd54" x="117.435532" y="292.19761" style="fill: #008000; stroke: #000000; stroke-width: 1.4"/> <use href="#m394f9abd54" x="170.973796" y="314.801104" style="fill: #008000; stroke: #000000; stroke-width: 1.4"/> <use href="#m394f9abd54" x="225.101064" y="335.493631" style="fill: #008000; stroke: #000000; stroke-width: 1.4"/> </g> </g> <g id="Poly3DCollection_3"> <path d="M 134.042517 125.501797 L 185.411992 143.365418 L 174.40953 159.428837 L 122.618039 141.923673 z " clip-path="url(#p30586938d8)" style="fill: #f89441; stroke: #ffffff; stroke-width: 1.45"/> <path d="M 185.411992 143.365418 L 237.276194 166.625442 L 226.721894 184.164785 L 174.40953 159.428837 z " clip-path="url(#p30586938d8)" style="fill: #f1814d; stroke: #ffffff; stroke-width: 1.45"/> <path d="M 122.618039 141.923673 L 174.40953 159.428837 L 163.213807 179.571552 L 111.051884 161.094888 z " clip-path="url(#p30586938d8)" style="fill: #f79342; stroke: #ffffff; stroke-width: 1.45"/> <path d="M 237.276194 166.625442 L 289.886626 183.513911 L 279.722227 202.008742 L 226.721894 184.164785 z " clip-path="url(#p30586938d8)" style="fill: #e97158; stroke: #ffffff; stroke-width: 1.45"/> <path d="M 174.40953 159.428837 L 226.721894 184.164785 L 215.920283 204.570385 L 163.213807 179.571552 z " clip-path="url(#p30586938d8)" style="fill: #f0804e; stroke: #ffffff; stroke-width: 1.45"/> <path d="M 111.051884 161.094888 L 163.213807 179.571552 L 151.99663 212.552169 L 99.845461 195.027929 z " clip-path="url(#p30586938d8)" style="fill: #ed7953; stroke: #ffffff; stroke-width: 1.45"/> <path d="M 163.213807 179.571552 L 215.920283 204.570385 L 204.7973 236.020833 L 151.99663 212.552169 z " clip-path="url(#p30586938d8)" style="fill: #e3685f; stroke: #ffffff; stroke-width: 1.45"/> <path d="M 226.721894 184.164785 L 279.722227 202.008742 L 269.476861 218.501281 L 215.920283 204.570385 z " clip-path="url(#p30586938d8)" style="fill: #e97158; stroke: #ffffff; stroke-width: 1.45"/> <path d="M 99.845461 195.027929 L 151.99663 212.552169 L 134.76814 247.897698 L 82.251085 231.069506 z " clip-path="url(#p30586938d8)" style="fill: #d8576b; stroke: #ffffff; stroke-width: 1.45"/> <path d="M 215.920283 204.570385 L 269.476861 218.501281 L 258.394047 250.70411 L 204.7973 236.020833 z " clip-path="url(#p30586938d8)" style="fill: #dd5e66; stroke: #ffffff; stroke-width: 1.45"/> <path d="M 151.99663 212.552169 L 204.7973 236.020833 L 188.045595 272.620776 L 134.76814 247.897698 z " clip-path="url(#p30586938d8)" style="fill: #cd4a76; stroke: #ffffff; stroke-width: 1.45"/> <path d="M 82.251085 231.069506 L 134.76814 247.897698 L 117.01056 278.69716 L 63.97099 262.007819 z " clip-path="url(#p30586938d8)" style="fill: #cd4a76; stroke: #ffffff; stroke-width: 1.45"/> <path d="M 204.7973 236.020833 L 258.394047 250.70411 L 242.009352 288.605946 L 188.045595 272.620776 z " clip-path="url(#p30586938d8)" style="fill: #c6417d; stroke: #ffffff; stroke-width: 1.45"/> <path d="M 134.76814 247.897698 L 188.045595 272.620776 L 170.943351 306.900851 L 117.01056 278.69716 z " clip-path="url(#p30586938d8)" style="fill: #c13b82; stroke: #ffffff; stroke-width: 1.45"/> <path d="M 188.045595 272.620776 L 242.009352 288.605946 L 225.32353 326.493655 L 170.943351 306.900851 z " clip-path="url(#p30586938d8)" style="fill: #b32c8e; stroke: #ffffff; stroke-width: 1.45"/> </g> <g id="Path3DCollection_3"> <defs> <path id="m1305b4de8a" d="M 0 3.391165 C 0.899347 3.391165 1.761981 3.03385 2.397916 2.397916 C 3.03385 1.761981 3.391165 0.899347 3.391165 0 C 3.391165 -0.899347 3.03385 -1.761981 2.397916 -2.397916 C 1.761981 -3.03385 0.899347 -3.391165 0 -3.391165 C -0.899347 -3.391165 -1.761981 -3.03385 -2.397916 -2.397916 C -3.03385 -1.761981 -3.391165 -0.899347 -3.391165 0 C -3.391165 0.899347 -3.03385 1.761981 -2.397916 2.397916 C -1.761981 3.03385 -0.899347 3.391165 0 3.391165 z " style="stroke: #000000; stroke-width: 1.4"/> </defs> <g clip-path="url(#p30586938d8)"> <use href="#m1305b4de8a" x="134.042517" y="125.501797" style="fill: #0000ff; stroke: #000000; stroke-width: 1.4"/> <use href="#m1305b4de8a" x="185.411992" y="143.365418" style="fill: #0000ff; stroke: #000000; stroke-width: 1.4"/> <use href="#m1305b4de8a" x="122.618039" y="141.923673" style="fill: #0000ff; stroke: #000000; stroke-width: 1.4"/> <use href="#m1305b4de8a" x="237.276194" y="166.625442" style="fill: #0000ff; stroke: #000000; stroke-width: 1.4"/> <use href="#m1305b4de8a" x="174.40953" y="159.428837" style="fill: #0000ff; stroke: #000000; stroke-width: 1.4"/> <use href="#m1305b4de8a" x="289.886626" y="183.513911" style="fill: #0000ff; stroke: #000000; stroke-width: 1.4"/> <use href="#m1305b4de8a" x="111.051884" y="161.094888" style="fill: #0000ff; stroke: #000000; stroke-width: 1.4"/> <use href="#m1305b4de8a" x="226.721894" y="184.164785" style="fill: #0000ff; stroke: #000000; stroke-width: 1.4"/> <use href="#m1305b4de8a" x="99.845461" y="195.027929" style="fill: #0000ff; stroke: #000000; stroke-width: 1.4"/> <use href="#m1305b4de8a" x="163.213807" y="179.571552" style="fill: #0000ff; stroke: #000000; stroke-width: 1.4"/> <use href="#m1305b4de8a" x="279.722227" y="202.008742" style="fill: #0000ff; stroke: #000000; stroke-width: 1.4"/> <use href="#m1305b4de8a" x="151.99663" y="212.552169" style="fill: #0000ff; stroke: #000000; stroke-width: 1.4"/> <use href="#m1305b4de8a" x="215.920283" y="204.570385" style="fill: #0000ff; stroke: #000000; stroke-width: 1.4"/> <use href="#m1305b4de8a" x="82.251085" y="231.069506" style="fill: #0000ff; stroke: #000000; stroke-width: 1.4"/> <use href="#m1305b4de8a" x="204.7973" y="236.020833" style="fill: #0000ff; stroke: #000000; stroke-width: 1.4"/> <use href="#m1305b4de8a" x="269.476861" y="218.501281" style="fill: #0000ff; stroke: #000000; stroke-width: 1.4"/> <use href="#m1305b4de8a" x="134.76814" y="247.897698" style="fill: #0000ff; stroke: #000000; stroke-width: 1.4"/> <use href="#m1305b4de8a" x="258.394047" y="250.70411" style="fill: #0000ff; stroke: #000000; stroke-width: 1.4"/> <use href="#m1305b4de8a" x="188.045595" y="272.620776" style="fill: #0000ff; stroke: #000000; stroke-width: 1.4"/> <use href="#m1305b4de8a" x="63.97099" y="262.007819" style="fill: #0000ff; stroke: #000000; stroke-width: 1.4"/> <use href="#m1305b4de8a" x="242.009352" y="288.605946" style="fill: #0000ff; stroke: #000000; stroke-width: 1.4"/> <use href="#m1305b4de8a" x="117.01056" y="278.69716" style="fill: #0000ff; stroke: #000000; stroke-width: 1.4"/> <use href="#m1305b4de8a" x="170.943351" y="306.900851" style="fill: #0000ff; stroke: #000000; stroke-width: 1.4"/> <use href="#m1305b4de8a" x="225.32353" y="326.493655" style="fill: #0000ff; stroke: #000000; stroke-width: 1.4"/> </g> </g> <g id="Poly3DCollection_4"> <path d="M 133.553453 102.300861 L 185.49363 119.300029 L 174.362293 134.599748 L 121.981434 118.102572 z " clip-path="url(#p30586938d8)" style="fill: #f4ed27; stroke: #ffffff; stroke-width: 1.45"/> <path d="M 185.49363 119.300029 L 238.166339 135.503261 L 227.471666 152.503383 L 174.362293 134.599748 z " clip-path="url(#p30586938d8)" style="fill: #f6e626; stroke: #ffffff; stroke-width: 1.45"/> <path d="M 238.166339 135.503261 L 290.694628 168.710478 L 280.478418 186.903475 L 227.471666 152.503383 z " clip-path="url(#p30586938d8)" style="fill: #febe2a; stroke: #ffffff; stroke-width: 1.45"/> <path d="M 121.981434 118.102572 L 174.362293 134.599748 L 163.008596 151.799448 L 110.17272 134.102405 z " clip-path="url(#p30586938d8)" style="fill: #f1f426; stroke: #ffffff; stroke-width: 1.45"/> <path d="M 110.17272 134.102405 L 163.008596 151.799448 L 151.593147 181.700439 L 98.685455 164.998823 z " clip-path="url(#p30586938d8)" style="fill: #f9dd25; stroke: #ffffff; stroke-width: 1.45"/> <path d="M 174.362293 134.599748 L 227.471666 152.503383 L 216.558829 170.201557 L 163.008596 151.799448 z " clip-path="url(#p30586938d8)" style="fill: #f5eb27; stroke: #ffffff; stroke-width: 1.45"/> <path d="M 227.471666 152.503383 L 280.478418 186.903475 L 270.311598 200.103521 L 216.558829 170.201557 z " clip-path="url(#p30586938d8)" style="fill: #fdc527; stroke: #ffffff; stroke-width: 1.45"/> <path d="M 98.685455 164.998823 L 151.593147 181.700439 L 134.299139 226.595444 L 81.2755 210.804575 z " clip-path="url(#p30586938d8)" style="fill: #fca636; stroke: #ffffff; stroke-width: 1.45"/> <path d="M 163.008596 151.799448 L 216.558829 170.201557 L 205.285183 199.300014 L 151.593147 181.700439 z " clip-path="url(#p30586938d8)" style="fill: #fbd724; stroke: #ffffff; stroke-width: 1.45"/> <path d="M 216.558829 170.201557 L 270.311598 200.103521 L 259.285113 228.704312 L 205.285183 199.300014 z " clip-path="url(#p30586938d8)" style="fill: #feb82c; stroke: #ffffff; stroke-width: 1.45"/> <path d="M 151.593147 181.700439 L 205.285183 199.300014 L 188.176749 246.200606 L 134.299139 226.595444 z " clip-path="url(#p30586938d8)" style="fill: #fba238; stroke: #ffffff; stroke-width: 1.45"/> <path d="M 81.2755 210.804575 L 134.299139 226.595444 L 116.484669 261.990769 L 63.062798 246.403664 z " clip-path="url(#p30586938d8)" style="fill: #f07f4f; stroke: #ffffff; stroke-width: 1.45"/> <path d="M 205.285183 199.300014 L 259.285113 228.704312 L 242.456208 275.000126 L 188.176749 246.200606 z " clip-path="url(#p30586938d8)" style="fill: #f48849; stroke: #ffffff; stroke-width: 1.45"/> <path d="M 134.299139 226.595444 L 188.176749 246.200606 L 170.86242 285.900061 L 116.484669 261.990769 z " clip-path="url(#p30586938d8)" style="fill: #ed7953; stroke: #ffffff; stroke-width: 1.45"/> <path d="M 188.176749 246.200606 L 242.456208 275.000126 L 225.545886 317.498147 L 170.86242 285.900061 z " clip-path="url(#p30586938d8)" style="fill: #dc5d67; stroke: #ffffff; stroke-width: 1.45"/> </g> <g id="Path3DCollection_4"> <defs> <path id="m8f6bf7c89b" d="M 0 3.391165 C 0.899347 3.391165 1.761981 3.03385 2.397916 2.397916 C 3.03385 1.761981 3.391165 0.899347 3.391165 0 C 3.391165 -0.899347 3.03385 -1.761981 2.397916 -2.397916 C 1.761981 -3.03385 0.899347 -3.391165 0 -3.391165 C -0.899347 -3.391165 -1.761981 -3.03385 -2.397916 -2.397916 C -3.03385 -1.761981 -3.391165 -0.899347 -3.391165 0 C -3.391165 0.899347 -3.03385 1.761981 -2.397916 2.397916 C -1.761981 3.03385 -0.899347 3.391165 0 3.391165 z " style="stroke: #000000; stroke-width: 1.4"/> </defs> <g clip-path="url(#p30586938d8)"> <use href="#m8f6bf7c89b" x="133.553453" y="102.300861" style="fill: #ff0000; stroke: #000000; stroke-width: 1.4"/> <use href="#m8f6bf7c89b" x="185.49363" y="119.300029" style="fill: #ff0000; stroke: #000000; stroke-width: 1.4"/> <use href="#m8f6bf7c89b" x="121.981434" y="118.102572" style="fill: #ff0000; stroke: #000000; stroke-width: 1.4"/> <use href="#m8f6bf7c89b" x="290.694628" y="168.710478" style="fill: #ff0000; stroke: #000000; stroke-width: 1.4"/> <use href="#m8f6bf7c89b" x="238.166339" y="135.503261" style="fill: #ff0000; stroke: #000000; stroke-width: 1.4"/> <use href="#m8f6bf7c89b" x="174.362293" y="134.599748" style="fill: #ff0000; stroke: #000000; stroke-width: 1.4"/> <use href="#m8f6bf7c89b" x="110.17272" y="134.102405" style="fill: #ff0000; stroke: #000000; stroke-width: 1.4"/> <use href="#m8f6bf7c89b" x="280.478418" y="186.903475" style="fill: #ff0000; stroke: #000000; stroke-width: 1.4"/> <use href="#m8f6bf7c89b" x="98.685455" y="164.998823" style="fill: #ff0000; stroke: #000000; stroke-width: 1.4"/> <use href="#m8f6bf7c89b" x="227.471666" y="152.503383" style="fill: #ff0000; stroke: #000000; stroke-width: 1.4"/> <use href="#m8f6bf7c89b" x="163.008596" y="151.799448" style="fill: #ff0000; stroke: #000000; stroke-width: 1.4"/> <use href="#m8f6bf7c89b" x="81.2755" y="210.804575" style="fill: #ff0000; stroke: #000000; stroke-width: 1.4"/> <use href="#m8f6bf7c89b" x="151.593147" y="181.700439" style="fill: #ff0000; stroke: #000000; stroke-width: 1.4"/> <use href="#m8f6bf7c89b" x="216.558829" y="170.201557" style="fill: #ff0000; stroke: #000000; stroke-width: 1.4"/> <use href="#m8f6bf7c89b" x="270.311598" y="200.103521" style="fill: #ff0000; stroke: #000000; stroke-width: 1.4"/> <use href="#m8f6bf7c89b" x="134.299139" y="226.595444" style="fill: #ff0000; stroke: #000000; stroke-width: 1.4"/> <use href="#m8f6bf7c89b" x="205.285183" y="199.300014" style="fill: #ff0000; stroke: #000000; stroke-width: 1.4"/> <use href="#m8f6bf7c89b" x="63.062798" y="246.403664" style="fill: #ff0000; stroke: #000000; stroke-width: 1.4"/> <use href="#m8f6bf7c89b" x="259.285113" y="228.704312" style="fill: #ff0000; stroke: #000000; stroke-width: 1.4"/> <use href="#m8f6bf7c89b" x="188.176749" y="246.200606" style="fill: #ff0000; stroke: #000000; stroke-width: 1.4"/> <use href="#m8f6bf7c89b" x="242.456208" y="275.000126" style="fill: #ff0000; stroke: #000000; stroke-width: 1.4"/> <use href="#m8f6bf7c89b" x="116.484669" y="261.990769" style="fill: #ff0000; stroke: #000000; stroke-width: 1.4"/> <use href="#m8f6bf7c89b" x="170.86242" y="285.900061" style="fill: #ff0000; stroke: #000000; stroke-width: 1.4"/> <use href="#m8f6bf7c89b" x="225.545886" y="317.498147" style="fill: #ff0000; stroke: #000000; stroke-width: 1.4"/> </g> </g> </g> </g><g transform="translate(520.500,0) scale(0.9017,1) translate(-520.500,0)"><g id="axes_2"> <g id="Poly3DCollection_5"> <path d="M 480.691195 149.154676 L 531.646023 168.585512 L 520.761008 191.144359 L 469.580725 173.191091 z " clip-path="url(#p5029152d02)" style="fill: #9d189d; stroke: #ffffff; stroke-width: 1.45"/> <path d="M 531.646023 168.585512 L 583.138512 188.027942 L 572.495078 212.307928 L 520.761008 191.144359 z " clip-path="url(#p5029152d02)" style="fill: #8f0da4; stroke: #ffffff; stroke-width: 1.45"/> <path d="M 469.580725 173.191091 L 520.761008 191.144359 L 509.708228 210.297967 L 458.159172 191.616679 z " clip-path="url(#p5029152d02)" style="fill: #920fa3; stroke: #ffffff; stroke-width: 1.45"/> <path d="M 583.138512 188.027942 L 634.877125 213.420472 L 624.568224 236.614604 L 572.495078 212.307928 z " clip-path="url(#p5029152d02)" style="fill: #7501a8; stroke: #ffffff; stroke-width: 1.45"/> <path d="M 520.761008 191.144359 L 572.495078 212.307928 L 561.80667 232.511831 L 509.708228 210.297967 z " clip-path="url(#p5029152d02)" style="fill: #8305a7; stroke: #ffffff; stroke-width: 1.45"/> <path d="M 458.159172 191.616679 L 509.708228 210.297967 L 498.512482 233.045091 L 446.698231 214.498372 z " clip-path="url(#p5029152d02)" style="fill: #8a09a5; stroke: #ffffff; stroke-width: 1.45"/> <path d="M 572.495078 212.307928 L 624.568224 236.614604 L 614.295316 256.262729 L 561.80667 232.511831 z " clip-path="url(#p5029152d02)" style="fill: #6900a8; stroke: #ffffff; stroke-width: 1.45"/> <path d="M 509.708228 210.297967 L 561.80667 232.511831 L 550.961432 251.945187 L 498.512482 233.045091 z " clip-path="url(#p5029152d02)" style="fill: #7d03a8; stroke: #ffffff; stroke-width: 1.45"/> <path d="M 446.698231 214.498372 L 498.512482 233.045091 L 481.43799 267.995008 L 429.258851 250.132969 z " clip-path="url(#p5029152d02)" style="fill: #7501a8; stroke: #ffffff; stroke-width: 1.45"/> <path d="M 561.80667 232.511831 L 614.295316 256.262729 L 603.701127 280.014814 L 550.961432 251.945187 z " clip-path="url(#p5029152d02)" style="fill: #6100a7; stroke: #ffffff; stroke-width: 1.45"/> <path d="M 498.512482 233.045091 L 550.961432 251.945187 L 534.324699 285.307599 L 481.43799 267.995008 z " clip-path="url(#p5029152d02)" style="fill: #6e00a8; stroke: #ffffff; stroke-width: 1.45"/> <path d="M 429.258851 250.132969 L 481.43799 267.995008 L 463.976534 302.393537 L 411.391994 284.803954 z " clip-path="url(#p5029152d02)" style="fill: #5e01a6; stroke: #ffffff; stroke-width: 1.45"/> <path d="M 550.961432 251.945187 L 603.701127 280.014814 L 587.575116 315.353686 L 534.324699 285.307599 z " clip-path="url(#p5029152d02)" style="fill: #5102a3; stroke: #ffffff; stroke-width: 1.45"/> <path d="M 481.43799 267.995008 L 534.324699 285.307599 L 517.324044 322.598201 L 463.976534 302.393537 z " clip-path="url(#p5029152d02)" style="fill: #5601a4; stroke: #ffffff; stroke-width: 1.45"/> <path d="M 534.324699 285.307599 L 587.575116 315.353686 L 571.198122 347.802418 L 517.324044 322.598201 z " clip-path="url(#p5029152d02)" style="fill: #3c049b; stroke: #ffffff; stroke-width: 1.45"/> </g> <g id="Path3DCollection_5"> <g clip-path="url(#p5029152d02)"> <use href="#m88a1e799e0" x="480.691195" y="149.154676" style="fill: #ffff00; stroke: #000000; stroke-width: 1.4"/> <use href="#m88a1e799e0" x="531.646023" y="168.585512" style="fill: #ffff00; stroke: #000000; stroke-width: 1.4"/> <use href="#m88a1e799e0" x="469.580725" y="173.191091" style="fill: #ffff00; stroke: #000000; stroke-width: 1.4"/> <use href="#m88a1e799e0" x="583.138512" y="188.027942" style="fill: #ffff00; stroke: #000000; stroke-width: 1.4"/> <use href="#m88a1e799e0" x="520.761008" y="191.144359" style="fill: #ffff00; stroke: #000000; stroke-width: 1.4"/> <use href="#m88a1e799e0" x="634.877125" y="213.420472" style="fill: #ffff00; stroke: #000000; stroke-width: 1.4"/> <use href="#m88a1e799e0" x="458.159172" y="191.616679" style="fill: #ffff00; stroke: #000000; stroke-width: 1.4"/> <use href="#m88a1e799e0" x="572.495078" y="212.307928" style="fill: #ffff00; stroke: #000000; stroke-width: 1.4"/> <use href="#m88a1e799e0" x="624.568224" y="236.614604" style="fill: #ffff00; stroke: #000000; stroke-width: 1.4"/> <use href="#m88a1e799e0" x="509.708228" y="210.297967" style="fill: #ffff00; stroke: #000000; stroke-width: 1.4"/> <use href="#m88a1e799e0" x="446.698231" y="214.498372" style="fill: #ffff00; stroke: #000000; stroke-width: 1.4"/> <use href="#m88a1e799e0" x="561.80667" y="232.511831" style="fill: #ffff00; stroke: #000000; stroke-width: 1.4"/> <use href="#m88a1e799e0" x="498.512482" y="233.045091" style="fill: #ffff00; stroke: #000000; stroke-width: 1.4"/> <use href="#m88a1e799e0" x="614.295316" y="256.262729" style="fill: #ffff00; stroke: #000000; stroke-width: 1.4"/> <use href="#m88a1e799e0" x="429.258851" y="250.132969" style="fill: #ffff00; stroke: #000000; stroke-width: 1.4"/> <use href="#m88a1e799e0" x="550.961432" y="251.945187" style="fill: #ffff00; stroke: #000000; stroke-width: 1.4"/> <use href="#m88a1e799e0" x="603.701127" y="280.014814" style="fill: #ffff00; stroke: #000000; stroke-width: 1.4"/> <use href="#m88a1e799e0" x="481.43799" y="267.995008" style="fill: #ffff00; stroke: #000000; stroke-width: 1.4"/> <use href="#m88a1e799e0" x="411.391994" y="284.803954" style="fill: #ffff00; stroke: #000000; stroke-width: 1.4"/> <use href="#m88a1e799e0" x="534.324699" y="285.307599" style="fill: #ffff00; stroke: #000000; stroke-width: 1.4"/> <use href="#m88a1e799e0" x="587.575116" y="315.353686" style="fill: #ffff00; stroke: #000000; stroke-width: 1.4"/> <use href="#m88a1e799e0" x="463.976534" y="302.393537" style="fill: #ffff00; stroke: #000000; stroke-width: 1.4"/> <use href="#m88a1e799e0" x="517.324044" y="322.598201" style="fill: #ffff00; stroke: #000000; stroke-width: 1.4"/> <use href="#m88a1e799e0" x="571.198122" y="347.802418" style="fill: #ffff00; stroke: #000000; stroke-width: 1.4"/> </g> </g> <g id="Poly3DCollection_6"> <path d="M 480.580621 143.759955 L 531.694199 153.932448 L 520.73932 179.438542 L 469.501873 170.15449 z " clip-path="url(#p5029152d02)" style="fill: #b6308b; stroke: #ffffff; stroke-width: 1.45"/> <path d="M 469.501873 170.15449 L 520.73932 179.438542 L 509.631753 199.637512 L 458.090365 189.441118 z " clip-path="url(#p5029152d02)" style="fill: #a82296; stroke: #ffffff; stroke-width: 1.45"/> <path d="M 531.694199 153.932448 L 583.517664 174.372973 L 572.739218 201.682957 L 520.73932 179.438542 z " clip-path="url(#p5029152d02)" style="fill: #b52f8c; stroke: #ffffff; stroke-width: 1.45"/> <path d="M 583.517664 174.372973 L 635.937406 193.404043 L 625.379491 219.907226 L 572.739218 201.682957 z " clip-path="url(#p5029152d02)" style="fill: #a82296; stroke: #ffffff; stroke-width: 1.45"/> <path d="M 520.73932 179.438542 L 572.739218 201.682957 L 561.978636 222.968165 L 509.631753 199.637512 z " clip-path="url(#p5029152d02)" style="fill: #a62098; stroke: #ffffff; stroke-width: 1.45"/> <path d="M 458.090365 189.441118 L 509.631753 199.637512 L 498.340378 219.477214 L 446.49839 209.167289 z " clip-path="url(#p5029152d02)" style="fill: #a31e9a; stroke: #ffffff; stroke-width: 1.45"/> <path d="M 572.739218 201.682957 L 625.379491 219.907226 L 614.984077 240.603648 L 561.978636 222.968165 z " clip-path="url(#p5029152d02)" style="fill: #9814a0; stroke: #ffffff; stroke-width: 1.45"/> <path d="M 509.631753 199.637512 L 561.978636 222.968165 L 551.126417 239.135713 L 498.340378 219.477214 z " clip-path="url(#p5029152d02)" style="fill: #a31e9a; stroke: #ffffff; stroke-width: 1.45"/> <path d="M 446.49839 209.167289 L 498.340378 219.477214 L 481.02213 248.498847 L 428.725897 238.713622 z " clip-path="url(#p5029152d02)" style="fill: #a01a9c; stroke: #ffffff; stroke-width: 1.45"/> <path d="M 561.978636 222.968165 L 614.984077 240.603648 L 604.388279 262.504891 L 551.126417 239.135713 z " clip-path="url(#p5029152d02)" style="fill: #9410a2; stroke: #ffffff; stroke-width: 1.45"/> <path d="M 498.340378 219.477214 L 551.126417 239.135713 L 534.416199 266.293577 L 481.02213 248.498847 z " clip-path="url(#p5029152d02)" style="fill: #a51f99; stroke: #ffffff; stroke-width: 1.45"/> <path d="M 428.725897 238.713622 L 481.02213 248.498847 L 463.434408 284.598723 L 410.81147 274.505145 z " clip-path="url(#p5029152d02)" style="fill: #9410a2; stroke: #ffffff; stroke-width: 1.45"/> <path d="M 551.126417 239.135713 L 604.388279 262.504891 L 588.266914 293.595766 L 534.416199 266.293577 z " clip-path="url(#p5029152d02)" style="fill: #9410a2; stroke: #ffffff; stroke-width: 1.45"/> <path d="M 481.02213 248.498847 L 534.416199 266.293577 L 517.2623 305.998388 L 463.434408 284.598723 z " clip-path="url(#p5029152d02)" style="fill: #99159f; stroke: #ffffff; stroke-width: 1.45"/> <path d="M 534.416199 266.293577 L 588.266914 293.595766 L 571.690826 327.196904 L 517.2623 305.998388 z " clip-path="url(#p5029152d02)" style="fill: #8707a6; stroke: #ffffff; stroke-width: 1.45"/> </g> <g id="Path3DCollection_6"> <g clip-path="url(#p5029152d02)"> <use href="#m394f9abd54" x="480.580621" y="143.759955" style="fill: #008000; stroke: #000000; stroke-width: 1.4"/> <use href="#m394f9abd54" x="469.501873" y="170.15449" style="fill: #008000; stroke: #000000; stroke-width: 1.4"/> <use href="#m394f9abd54" x="531.694199" y="153.932448" style="fill: #008000; stroke: #000000; stroke-width: 1.4"/> <use href="#m394f9abd54" x="458.090365" y="189.441118" style="fill: #008000; stroke: #000000; stroke-width: 1.4"/> <use href="#m394f9abd54" x="583.517664" y="174.372973" style="fill: #008000; stroke: #000000; stroke-width: 1.4"/> <use href="#m394f9abd54" x="520.73932" y="179.438542" style="fill: #008000; stroke: #000000; stroke-width: 1.4"/> <use href="#m394f9abd54" x="572.739218" y="201.682957" style="fill: #008000; stroke: #000000; stroke-width: 1.4"/> <use href="#m394f9abd54" x="635.937406" y="193.404043" style="fill: #008000; stroke: #000000; stroke-width: 1.4"/> <use href="#m394f9abd54" x="446.49839" y="209.167289" style="fill: #008000; stroke: #000000; stroke-width: 1.4"/> <use href="#m394f9abd54" x="509.631753" y="199.637512" style="fill: #008000; stroke: #000000; stroke-width: 1.4"/> <use href="#m394f9abd54" x="625.379491" y="219.907226" style="fill: #008000; stroke: #000000; stroke-width: 1.4"/> <use href="#m394f9abd54" x="561.978636" y="222.968165" style="fill: #008000; stroke: #000000; stroke-width: 1.4"/> <use href="#m394f9abd54" x="498.340378" y="219.477214" style="fill: #008000; stroke: #000000; stroke-width: 1.4"/> <use href="#m394f9abd54" x="614.984077" y="240.603648" style="fill: #008000; stroke: #000000; stroke-width: 1.4"/> <use href="#m394f9abd54" x="428.725897" y="238.713622" style="fill: #008000; stroke: #000000; stroke-width: 1.4"/> <use href="#m394f9abd54" x="551.126417" y="239.135713" style="fill: #008000; stroke: #000000; stroke-width: 1.4"/> <use href="#m394f9abd54" x="604.388279" y="262.504891" style="fill: #008000; stroke: #000000; stroke-width: 1.4"/> <use href="#m394f9abd54" x="410.81147" y="274.505145" style="fill: #008000; stroke: #000000; stroke-width: 1.4"/> <use href="#m394f9abd54" x="481.02213" y="248.498847" style="fill: #008000; stroke: #000000; stroke-width: 1.4"/> <use href="#m394f9abd54" x="534.416199" y="266.293577" style="fill: #008000; stroke: #000000; stroke-width: 1.4"/> <use href="#m394f9abd54" x="588.266914" y="293.595766" style="fill: #008000; stroke: #000000; stroke-width: 1.4"/> <use href="#m394f9abd54" x="463.434408" y="284.598723" style="fill: #008000; stroke: #000000; stroke-width: 1.4"/> <use href="#m394f9abd54" x="517.2623" y="305.998388" style="fill: #008000; stroke: #000000; stroke-width: 1.4"/> <use href="#m394f9abd54" x="571.690826" y="327.196904" style="fill: #008000; stroke: #000000; stroke-width: 1.4"/> </g> </g> <g id="Poly3DCollection_7"> <path d="M 479.838386 107.547593 L 531.782691 127.016907 L 520.704245 160.507705 L 468.807402 143.410452 z " clip-path="url(#p5029152d02)" style="fill: #ed7a52; stroke: #ffffff; stroke-width: 1.45"/> <path d="M 531.782691 127.016907 L 584.012995 156.533857 L 572.99253 190.658847 L 520.704245 160.507705 z " clip-path="url(#p5029152d02)" style="fill: #de6164; stroke: #ffffff; stroke-width: 1.45"/> <path d="M 468.807402 143.410452 L 520.704245 160.507705 L 509.51903 183.924167 L 457.348654 165.989335 z " clip-path="url(#p5029152d02)" style="fill: #db5c68; stroke: #ffffff; stroke-width: 1.45"/> <path d="M 584.012995 156.533857 L 636.870089 175.796447 L 625.918508 208.806614 L 572.99253 190.658847 z " clip-path="url(#p5029152d02)" style="fill: #cc4977; stroke: #ffffff; stroke-width: 1.45"/> <path d="M 520.704245 160.507705 L 572.99253 190.658847 L 562.127752 214.692644 L 509.51903 183.924167 z " clip-path="url(#p5029152d02)" style="fill: #c9447a; stroke: #ffffff; stroke-width: 1.45"/> <path d="M 572.99253 190.658847 L 625.918508 208.806614 L 615.357969 232.103137 L 562.127752 214.692644 z " clip-path="url(#p5029152d02)" style="fill: #b42e8d; stroke: #ffffff; stroke-width: 1.45"/> <path d="M 457.348654 165.989335 L 509.51903 183.924167 L 498.120525 202.144992 L 445.564173 184.245461 z " clip-path="url(#p5029152d02)" style="fill: #d6556d; stroke: #ffffff; stroke-width: 1.45"/> <path d="M 509.51903 183.924167 L 562.127752 214.692644 L 551.258038 228.916582 L 498.120525 202.144992 z " clip-path="url(#p5029152d02)" style="fill: #c6417d; stroke: #ffffff; stroke-width: 1.45"/> <path d="M 562.127752 214.692644 L 615.357969 232.103137 L 604.769021 252.802885 L 551.258038 228.916582 z " clip-path="url(#p5029152d02)" style="fill: #b02991; stroke: #ffffff; stroke-width: 1.45"/> <path d="M 445.564173 184.245461 L 498.120525 202.144992 L 480.728768 234.745593 L 427.748522 217.771869 z " clip-path="url(#p5029152d02)" style="fill: #d14e72; stroke: #ffffff; stroke-width: 1.45"/> <path d="M 498.120525 202.144992 L 551.258038 228.916582 L 534.451176 259.025159 L 480.728768 234.745593 z " clip-path="url(#p5029152d02)" style="fill: #c5407e; stroke: #ffffff; stroke-width: 1.45"/> <path d="M 551.258038 228.916582 L 604.769021 252.802885 L 588.479721 286.902701 L 534.451176 259.025159 z " clip-path="url(#p5029152d02)" style="fill: #ad2793; stroke: #ffffff; stroke-width: 1.45"/> <path d="M 427.748522 217.771869 L 480.728768 234.745593 L 463.056504 272.194348 L 409.751051 255.692751 z " clip-path="url(#p5029152d02)" style="fill: #c23c81; stroke: #ffffff; stroke-width: 1.45"/> <path d="M 480.728768 234.745593 L 534.451176 259.025159 L 517.239239 299.798458 L 463.056504 272.194348 z " clip-path="url(#p5029152d02)" style="fill: #b6308b; stroke: #ffffff; stroke-width: 1.45"/> <path d="M 534.451176 259.025159 L 588.479721 286.902701 L 571.839058 320.99763 L 517.239239 299.798458 z " clip-path="url(#p5029152d02)" style="fill: #9d189d; stroke: #ffffff; stroke-width: 1.45"/> </g> <g id="Path3DCollection_7"> <g clip-path="url(#p5029152d02)"> <use href="#m1305b4de8a" x="479.838386" y="107.547593" style="fill: #0000ff; stroke: #000000; stroke-width: 1.4"/> <use href="#m1305b4de8a" x="468.807402" y="143.410452" style="fill: #0000ff; stroke: #000000; stroke-width: 1.4"/> <use href="#m1305b4de8a" x="531.782691" y="127.016907" style="fill: #0000ff; stroke: #000000; stroke-width: 1.4"/> <use href="#m1305b4de8a" x="584.012995" y="156.533857" style="fill: #0000ff; stroke: #000000; stroke-width: 1.4"/> <use href="#m1305b4de8a" x="520.704245" y="160.507705" style="fill: #0000ff; stroke: #000000; stroke-width: 1.4"/> <use href="#m1305b4de8a" x="457.348654" y="165.989335" style="fill: #0000ff; stroke: #000000; stroke-width: 1.4"/> <use href="#m1305b4de8a" x="572.99253" y="190.658847" style="fill: #0000ff; stroke: #000000; stroke-width: 1.4"/> <use href="#m1305b4de8a" x="636.870089" y="175.796447" style="fill: #0000ff; stroke: #000000; stroke-width: 1.4"/> <use href="#m1305b4de8a" x="509.51903" y="183.924167" style="fill: #0000ff; stroke: #000000; stroke-width: 1.4"/> <use href="#m1305b4de8a" x="562.127752" y="214.692644" style="fill: #0000ff; stroke: #000000; stroke-width: 1.4"/> <use href="#m1305b4de8a" x="625.918508" y="208.806614" style="fill: #0000ff; stroke: #000000; stroke-width: 1.4"/> <use href="#m1305b4de8a" x="445.564173" y="184.245461" style="fill: #0000ff; stroke: #000000; stroke-width: 1.4"/> <use href="#m1305b4de8a" x="615.357969" y="232.103137" style="fill: #0000ff; stroke: #000000; stroke-width: 1.4"/> <use href="#m1305b4de8a" x="498.120525" y="202.144992" style="fill: #0000ff; stroke: #000000; stroke-width: 1.4"/> <use href="#m1305b4de8a" x="551.258038" y="228.916582" style="fill: #0000ff; stroke: #000000; stroke-width: 1.4"/> <use href="#m1305b4de8a" x="427.748522" y="217.771869" style="fill: #0000ff; stroke: #000000; stroke-width: 1.4"/> <use href="#m1305b4de8a" x="604.769021" y="252.802885" style="fill: #0000ff; stroke: #000000; stroke-width: 1.4"/> <use href="#m1305b4de8a" x="480.728768" y="234.745593" style="fill: #0000ff; stroke: #000000; stroke-width: 1.4"/> <use href="#m1305b4de8a" x="409.751051" y="255.692751" style="fill: #0000ff; stroke: #000000; stroke-width: 1.4"/> <use href="#m1305b4de8a" x="534.451176" y="259.025159" style="fill: #0000ff; stroke: #000000; stroke-width: 1.4"/> <use href="#m1305b4de8a" x="588.479721" y="286.902701" style="fill: #0000ff; stroke: #000000; stroke-width: 1.4"/> <use href="#m1305b4de8a" x="463.056504" y="272.194348" style="fill: #0000ff; stroke: #000000; stroke-width: 1.4"/> <use href="#m1305b4de8a" x="517.239239" y="299.798458" style="fill: #0000ff; stroke: #000000; stroke-width: 1.4"/> <use href="#m1305b4de8a" x="571.839058" y="320.99763" style="fill: #0000ff; stroke: #000000; stroke-width: 1.4"/> </g> </g> <g id="Poly3DCollection_8"> <path d="M 479.624303 97.10288 L 531.820885 115.400022 L 520.656615 134.800265 L 468.168447 118.804333 z " clip-path="url(#p5029152d02)" style="fill: #fdb42f; stroke: #ffffff; stroke-width: 1.45"/> <path d="M 531.820885 115.400022 L 584.39433 142.800265 L 573.577449 165.203263 L 520.656615 134.800265 z " clip-path="url(#p5029152d02)" style="fill: #f99a3e; stroke: #ffffff; stroke-width: 1.45"/> <path d="M 584.39433 142.800265 L 637.186432 169.824398 L 626.777391 191.118628 L 573.577449 165.203263 z " clip-path="url(#p5029152d02)" style="fill: #ea7457; stroke: #ffffff; stroke-width: 1.45"/> <path d="M 468.168447 118.804333 L 520.656615 134.800265 L 509.31584 155.599898 L 456.47936 138.503552 z " clip-path="url(#p5029152d02)" style="fill: #fdab33; stroke: #ffffff; stroke-width: 1.45"/> <path d="M 520.656615 134.800265 L 573.577449 165.203263 L 562.619482 187.402879 L 509.31584 155.599898 z " clip-path="url(#p5029152d02)" style="fill: #f79044; stroke: #ffffff; stroke-width: 1.45"/> <path d="M 573.577449 165.203263 L 626.777391 191.118628 L 616.233545 212.196771 L 562.619482 187.402879 z " clip-path="url(#p5029152d02)" style="fill: #e56b5d; stroke: #ffffff; stroke-width: 1.45"/> <path d="M 456.47936 138.503552 L 509.31584 155.599898 L 497.868784 182.29892 L 444.857991 165.406862 z " clip-path="url(#p5029152d02)" style="fill: #f99a3e; stroke: #ffffff; stroke-width: 1.45"/> <path d="M 509.31584 155.599898 L 562.619482 187.402879 L 551.52743 208.000882 L 497.868784 182.29892 z " clip-path="url(#p5029152d02)" style="fill: #f1834c; stroke: #ffffff; stroke-width: 1.45"/> <path d="M 562.619482 187.402879 L 616.233545 212.196771 L 605.271127 240.008289 L 551.52743 208.000882 z " clip-path="url(#p5029152d02)" style="fill: #de5f65; stroke: #ffffff; stroke-width: 1.45"/> <path d="M 444.857991 165.406862 L 497.868784 182.29892 L 480.426969 220.596771 L 427.143258 204.803181 z " clip-path="url(#p5029152d02)" style="fill: #ef7c51; stroke: #ffffff; stroke-width: 1.45"/> <path d="M 497.868784 182.29892 L 551.52743 208.000882 L 534.528294 242.999777 L 480.426969 220.596771 z " clip-path="url(#p5029152d02)" style="fill: #e87059; stroke: #ffffff; stroke-width: 1.45"/> <path d="M 551.52743 208.000882 L 605.271127 240.008289 L 588.743313 278.612381 L 534.528294 242.999777 z " clip-path="url(#p5029152d02)" style="fill: #d14e72; stroke: #ffffff; stroke-width: 1.45"/> <path d="M 427.143258 204.803181 L 480.426969 220.596771 L 462.611878 257.599867 L 408.996521 242.306998 z " clip-path="url(#p5029152d02)" style="fill: #df6263; stroke: #ffffff; stroke-width: 1.45"/> <path d="M 480.426969 220.596771 L 534.528294 242.999777 L 517.181587 284.298632 L 462.611878 257.599867 z " clip-path="url(#p5029152d02)" style="fill: #d8576b; stroke: #ffffff; stroke-width: 1.45"/> <path d="M 534.528294 242.999777 L 588.743313 278.612381 L 572.058991 311.799749 L 517.181587 284.298632 z " clip-path="url(#p5029152d02)" style="fill: #c03a83; stroke: #ffffff; stroke-width: 1.45"/> </g> <g id="Path3DCollection_8"> <g clip-path="url(#p5029152d02)"> <use href="#m8f6bf7c89b" x="479.624303" y="97.10288" style="fill: #ff0000; stroke: #000000; stroke-width: 1.4"/> <use href="#m8f6bf7c89b" x="531.820885" y="115.400022" style="fill: #ff0000; stroke: #000000; stroke-width: 1.4"/> <use href="#m8f6bf7c89b" x="468.168447" y="118.804333" style="fill: #ff0000; stroke: #000000; stroke-width: 1.4"/> <use href="#m8f6bf7c89b" x="584.39433" y="142.800265" style="fill: #ff0000; stroke: #000000; stroke-width: 1.4"/> <use href="#m8f6bf7c89b" x="637.186432" y="169.824398" style="fill: #ff0000; stroke: #000000; stroke-width: 1.4"/> <use href="#m8f6bf7c89b" x="520.656615" y="134.800265" style="fill: #ff0000; stroke: #000000; stroke-width: 1.4"/> <use href="#m8f6bf7c89b" x="573.577449" y="165.203263" style="fill: #ff0000; stroke: #000000; stroke-width: 1.4"/> <use href="#m8f6bf7c89b" x="456.47936" y="138.503552" style="fill: #ff0000; stroke: #000000; stroke-width: 1.4"/> <use href="#m8f6bf7c89b" x="626.777391" y="191.118628" style="fill: #ff0000; stroke: #000000; stroke-width: 1.4"/> <use href="#m8f6bf7c89b" x="444.857991" y="165.406862" style="fill: #ff0000; stroke: #000000; stroke-width: 1.4"/> <use href="#m8f6bf7c89b" x="509.31584" y="155.599898" style="fill: #ff0000; stroke: #000000; stroke-width: 1.4"/> <use href="#m8f6bf7c89b" x="562.619482" y="187.402879" style="fill: #ff0000; stroke: #000000; stroke-width: 1.4"/> <use href="#m8f6bf7c89b" x="616.233545" y="212.196771" style="fill: #ff0000; stroke: #000000; stroke-width: 1.4"/> <use href="#m8f6bf7c89b" x="497.868784" y="182.29892" style="fill: #ff0000; stroke: #000000; stroke-width: 1.4"/> <use href="#m8f6bf7c89b" x="427.143258" y="204.803181" style="fill: #ff0000; stroke: #000000; stroke-width: 1.4"/> <use href="#m8f6bf7c89b" x="551.52743" y="208.000882" style="fill: #ff0000; stroke: #000000; stroke-width: 1.4"/> <use href="#m8f6bf7c89b" x="605.271127" y="240.008289" style="fill: #ff0000; stroke: #000000; stroke-width: 1.4"/> <use href="#m8f6bf7c89b" x="480.426969" y="220.596771" style="fill: #ff0000; stroke: #000000; stroke-width: 1.4"/> <use href="#m8f6bf7c89b" x="408.996521" y="242.306998" style="fill: #ff0000; stroke: #000000; stroke-width: 1.4"/> <use href="#m8f6bf7c89b" x="588.743313" y="278.612381" style="fill: #ff0000; stroke: #000000; stroke-width: 1.4"/> <use href="#m8f6bf7c89b" x="534.528294" y="242.999777" style="fill: #ff0000; stroke: #000000; stroke-width: 1.4"/> <use href="#m8f6bf7c89b" x="462.611878" y="257.599867" style="fill: #ff0000; stroke: #000000; stroke-width: 1.4"/> <use href="#m8f6bf7c89b" x="517.181587" y="284.298632" style="fill: #ff0000; stroke: #000000; stroke-width: 1.4"/> <use href="#m8f6bf7c89b" x="572.058991" y="311.799749" style="fill: #ff0000; stroke: #000000; stroke-width: 1.4"/> </g> </g> </g> </g>
<defs> <clipPath id="p30586938d8"> <rect x="20.81095" y="72.733887" width="306.773404" height="306.773404"/> </clipPath> <clipPath id="p5029152d02"> <rect x="366.655361" y="70.318754" width="307.688368" height="307.688368"/> </clipPath> </defs> 
<text x="0" y="0" transform="translate(20.85,228.31) scale(0.9367,1)" font-family='"Liberation Sans", sans-serif' font-weight="normal" font-size="14.41" fill="#262626" stroke="#262626" stroke-width="0.12">400</text>
<text x="0" y="0" transform="translate(22.68,247.91) scale(0.9461,1)" font-family='"Liberation Sans", sans-serif' font-weight="normal" font-size="14.41" fill="#262626" stroke="#262626" stroke-width="0.12">350</text>
<text x="0" y="0" transform="translate(24.03,267.96) scale(0.9461,1)" font-family='"Liberation Sans", sans-serif' font-weight="normal" font-size="14.41" fill="#262626" stroke="#262626" stroke-width="0.12">300</text>
<text x="0" y="0" transform="translate(25.06,286.96) scale(0.9533,1)" font-family='"Liberation Sans", sans-serif' font-weight="normal" font-size="14.41" fill="#262626" stroke="#262626" stroke-width="0.12">250</text>
<text x="0" y="0" transform="translate(26.51,305.56) scale(0.9533,1)" font-family='"Liberation Sans", sans-serif' font-weight="normal" font-size="14.41" fill="#262626" stroke="#262626" stroke-width="0.12">200</text>
<text x="0" y="0" transform="translate(27.49,324.46) scale(0.9693,1)" font-family='"Liberation Sans", sans-serif' font-weight="normal" font-size="14.41" fill="#262626" stroke="#262626" stroke-width="0.12">150</text>
<text x="0" y="0" transform="translate(61.50,346.85) scale(0.9604,1)" font-family='"Liberation Sans", sans-serif' font-weight="normal" font-size="14.61" fill="#262626" stroke="#262626" stroke-width="0.12">2</text>
<text x="0" y="0" transform="translate(85.29,355.01) scale(0.9352,1)" font-family='"Liberation Sans", sans-serif' font-weight="normal" font-size="14.41" fill="#262626" stroke="#262626" stroke-width="0.12">3</text>
<text x="0" y="0" transform="translate(109.07,363.20) scale(0.8548,1)" font-family='"Liberation Sans", sans-serif' font-weight="normal" font-size="14.83" fill="#262626" stroke="#262626" stroke-width="0.12">4</text>
<text x="0" y="0" transform="translate(132.56,372.10) scale(0.9220,1)" font-family='"Liberation Sans", sans-serif' font-weight="normal" font-size="14.61" fill="#262626" stroke="#262626" stroke-width="0.12">5</text>
<text x="0" y="0" transform="translate(156.56,380.66) scale(0.9595,1)" font-family='"Liberation Sans", sans-serif' font-weight="normal" font-size="14.41" fill="#262626" stroke="#262626" stroke-width="0.12">6</text>
<text x="0" y="0" transform="translate(180.18,389.35) scale(0.9488,1)" font-family='"Liberation Sans", sans-serif' font-weight="normal" font-size="14.83" fill="#262626" stroke="#262626" stroke-width="0.12">7</text>
<text x="0" y="0" transform="translate(205.11,397.71) scale(0.9452,1)" font-family='"Liberation Sans", sans-serif' font-weight="normal" font-size="14.41" fill="#262626" stroke="#262626" stroke-width="0.12">8</text>
<text x="0" y="0" transform="translate(296.68,269.51) scale(0.9274,1)" font-family='"Liberation Sans", sans-serif' font-weight="normal" font-size="14.41" fill="#262626" stroke="#262626" stroke-width="0.12">0</text>
<text x="0" y="0" transform="translate(283.93,287.96) scale(0.9737,1)" font-family='"Liberation Sans", sans-serif' font-weight="normal" font-size="14.41" fill="#262626" stroke="#262626" stroke-width="0.12">10</text>
<text x="0" y="0" transform="translate(275.47,306.41) scale(0.9490,1)" font-family='"Liberation Sans", sans-serif' font-weight="normal" font-size="14.41" fill="#262626" stroke="#262626" stroke-width="0.12">20</text>
<text x="0" y="0" transform="translate(266.49,326.41) scale(0.9380,1)" font-family='"Liberation Sans", sans-serif' font-weight="normal" font-size="14.41" fill="#262626" stroke="#262626" stroke-width="0.12">30</text>
<text x="0" y="0" transform="translate(257.36,345.36) scale(0.9237,1)" font-family='"Liberation Sans", sans-serif' font-weight="normal" font-size="14.41" fill="#262626" stroke="#262626" stroke-width="0.12">40</text>
<text x="0" y="0" transform="translate(248.01,365.26) scale(0.9398,1)" font-family='"Liberation Sans", sans-serif' font-weight="normal" font-size="14.41" fill="#262626" stroke="#262626" stroke-width="0.12">50</text>
<text x="0" y="0" transform="translate(238.42,385.26) scale(0.9490,1)" font-family='"Liberation Sans", sans-serif' font-weight="normal" font-size="14.41" fill="#262626" stroke="#262626" stroke-width="0.12">60</text>
<text x="0" y="0" transform="translate(367.93,231.86) scale(0.9461,1)" font-family='"Liberation Sans", sans-serif' font-weight="normal" font-size="14.41" fill="#262626" stroke="#262626" stroke-width="0.12">350</text>
<text x="0" y="0" transform="translate(369.38,252.26) scale(0.9461,1)" font-family='"Liberation Sans", sans-serif' font-weight="normal" font-size="14.41" fill="#262626" stroke="#262626" stroke-width="0.12">300</text>
<text x="0" y="0" transform="translate(370.46,272.76) scale(0.9533,1)" font-family='"Liberation Sans", sans-serif' font-weight="normal" font-size="14.41" fill="#262626" stroke="#262626" stroke-width="0.12">250</text>
<text x="0" y="0" transform="translate(372.26,292.26) scale(0.9533,1)" font-family='"Liberation Sans", sans-serif' font-weight="normal" font-size="14.41" fill="#262626" stroke="#262626" stroke-width="0.12">200</text>
<text x="0" y="0" transform="translate(373.39,311.66) scale(0.9693,1)" font-family='"Liberation Sans", sans-serif' font-weight="normal" font-size="14.41" fill="#262626" stroke="#262626" stroke-width="0.12">150</text>
<text x="0" y="0" transform="translate(408.20,345.10) scale(0.9604,1)" font-family='"Liberation Sans", sans-serif' font-weight="normal" font-size="14.61" fill="#262626" stroke="#262626" stroke-width="0.12">2</text>
<text x="0" y="0" transform="translate(431.94,353.26) scale(0.9352,1)" font-family='"Liberation Sans", sans-serif' font-weight="normal" font-size="14.41" fill="#262626" stroke="#262626" stroke-width="0.12">3</text>
<text x="0" y="0" transform="translate(455.27,361.60) scale(0.8548,1)" font-family='"Liberation Sans", sans-serif' font-weight="normal" font-size="14.83" fill="#262626" stroke="#262626" stroke-width="0.12">4</text>
<text x="0" y="0" transform="translate(478.96,370.15) scale(0.9220,1)" font-family='"Liberation Sans", sans-serif' font-weight="normal" font-size="14.61" fill="#262626" stroke="#262626" stroke-width="0.12">5</text>
<text x="0" y="0" transform="translate(503.01,378.76) scale(0.9595,1)" font-family='"Liberation Sans", sans-serif' font-weight="normal" font-size="14.41" fill="#262626" stroke="#262626" stroke-width="0.12">6</text>
<text x="0" y="0" transform="translate(526.83,387.35) scale(0.9488,1)" font-family='"Liberation Sans", sans-serif' font-weight="normal" font-size="14.83" fill="#262626" stroke="#262626" stroke-width="0.12">7</text>
<text x="0" y="0" transform="translate(551.36,396.26) scale(0.9452,1)" font-family='"Liberation Sans", sans-serif' font-weight="normal" font-size="14.41" fill="#262626" stroke="#262626" stroke-width="0.12">8</text>
<text x="0" y="0" transform="translate(642.88,267.71) scale(0.9274,1)" font-family='"Liberation Sans", sans-serif' font-weight="normal" font-size="14.41" fill="#262626" stroke="#262626" stroke-width="0.12">0</text>
<text x="0" y="0" transform="translate(630.23,286.01) scale(0.9737,1)" font-family='"Liberation Sans", sans-serif' font-weight="normal" font-size="14.41" fill="#262626" stroke="#262626" stroke-width="0.12">10</text>
<text x="0" y="0" transform="translate(621.52,304.81) scale(0.9490,1)" font-family='"Liberation Sans", sans-serif' font-weight="normal" font-size="14.41" fill="#262626" stroke="#262626" stroke-width="0.12">20</text>
<text x="0" y="0" transform="translate(612.84,324.51) scale(0.9380,1)" font-family='"Liberation Sans", sans-serif' font-weight="normal" font-size="14.41" fill="#262626" stroke="#262626" stroke-width="0.12">30</text>
<text x="0" y="0" transform="translate(603.46,344.06) scale(0.9237,1)" font-family='"Liberation Sans", sans-serif' font-weight="normal" font-size="14.41" fill="#262626" stroke="#262626" stroke-width="0.12">40</text>
<text x="0" y="0" transform="translate(594.26,363.31) scale(0.9398,1)" font-family='"Liberation Sans", sans-serif' font-weight="normal" font-size="14.41" fill="#262626" stroke="#262626" stroke-width="0.12">50</text>
<text x="0" y="0" transform="translate(584.52,383.41) scale(0.9490,1)" font-family='"Liberation Sans", sans-serif' font-weight="normal" font-size="14.41" fill="#262626" stroke="#262626" stroke-width="0.12">60</text>
<text x="0" y="0" transform="translate(0.10,279.65) scale(0.8937,1)" font-family='"Liberation Sans", sans-serif' font-weight="bold" font-size="15.19" fill="#1a1a1a">Nu</text>
<text x="0" y="0" transform="translate(346.18,278.05) scale(0.9041,1)" font-family='"Liberation Sans", sans-serif' font-weight="bold" font-size="15.47" fill="#1a1a1a">Nu</text>
<text x="0" y="0" transform="translate(116.04,392.28) scale(0.9034,1)" font-family='"Liberation Sans", sans-serif' font-weight="bold" font-size="16.11" fill="#1a1a1a">H/D</text>
<text x="0" y="0" transform="translate(462.45,390.59) scale(0.9346,1)" font-family='"Liberation Sans", sans-serif' font-weight="bold" font-size="15.44" fill="#1a1a1a">H/D</text>
<g transform="translate(288.9,334.3) rotate(37.5)" fill="none" stroke="#1a1a1a"><ellipse cx="0" cy="0" rx="4.8" ry="3.1" stroke-width="2.3"/><line x1="-0.6" y1="-3.1" x2="0.6" y2="3.1" stroke-width="1.8"/></g>
<circle cx="289.6" cy="324.6" r="1.9" fill="none" stroke="#1a1a1a" stroke-width="1.35"/>
<g transform="translate(635.05,332.4) rotate(37.5)" fill="none" stroke="#1a1a1a"><ellipse cx="0" cy="0" rx="4.8" ry="3.1" stroke-width="2.3"/><line x1="-0.6" y1="-3.1" x2="0.6" y2="3.1" stroke-width="1.8"/></g>
<circle cx="635.9" cy="322.4" r="1.9" fill="none" stroke="#1a1a1a" stroke-width="1.35"/>
<text x="0" y="0" transform="translate(171.66,416.77) scale(0.9318,1)" font-family='"Liberation Serif", serif' font-weight="bold" font-size="16.10" fill="#111">(a)</text>
<text x="0" y="0" transform="translate(516.36,420.42) scale(0.9171,1)" font-family='"Liberation Serif", serif' font-weight="bold" font-size="16.32" fill="#111">(b)</text>
</svg></body></html>
